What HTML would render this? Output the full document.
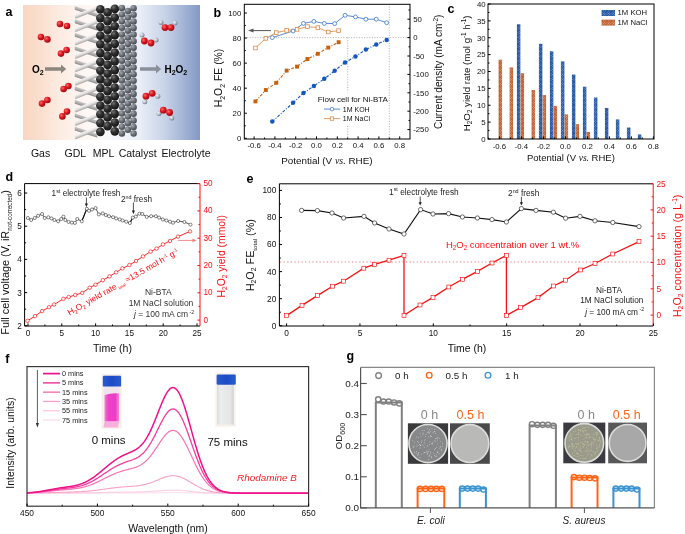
<!DOCTYPE html>
<html><head><meta charset="utf-8"><style>
html,body{margin:0;padding:0;background:#fff;}
svg{display:block;font-family:"Liberation Sans", sans-serif;will-change:transform;}
</style></head><body>
<svg width="685" height="534" viewBox="0 0 685 534">
<rect width="685" height="534" fill="#fff"/>
<defs>
<linearGradient id="ga" x1="0" x2="1" y1="0" y2="0">
<stop offset="0" stop-color="#f8d6c2"/>
<stop offset="0.1" stop-color="#fadfcf"/>
<stop offset="0.2" stop-color="#fcebe1"/>
<stop offset="0.3" stop-color="#fdf3ee"/>
<stop offset="0.4" stop-color="#fdf8f6"/>
<stop offset="0.5" stop-color="#f6f7fa"/>
<stop offset="0.66" stop-color="#e9eef7"/>
<stop offset="0.8" stop-color="#c8d3e8"/>
<stop offset="0.92" stop-color="#9eb0d3"/>
<stop offset="1" stop-color="#8398c4"/>
</linearGradient>
<radialGradient id="gred" cx="0.35" cy="0.35" r="0.7">
<stop offset="0" stop-color="#ff6a6a"/><stop offset="0.5" stop-color="#dc1820"/><stop offset="1" stop-color="#980810"/>
</radialGradient>
<radialGradient id="gwh" cx="0.35" cy="0.35" r="0.7">
<stop offset="0" stop-color="#f4f6fa"/><stop offset="0.55" stop-color="#b4bac6"/><stop offset="1" stop-color="#70788a"/>
</radialGradient>
<radialGradient id="gblk" cx="0.35" cy="0.3" r="0.75">
<stop offset="0" stop-color="#707070"/><stop offset="0.45" stop-color="#2e2e2e"/><stop offset="1" stop-color="#141414"/>
</radialGradient>
<radialGradient id="ggry" cx="0.35" cy="0.3" r="0.75">
<stop offset="0" stop-color="#a4a8b0"/><stop offset="0.5" stop-color="#6c7078"/><stop offset="1" stop-color="#43464c"/>
</radialGradient>
<linearGradient id="gf1" x1="0" y1="0" x2="0" y2="1">
<stop offset="0" stop-color="#f6f4f2"/><stop offset="0.45" stop-color="#e2e0de"/><stop offset="1" stop-color="#a6a4a2"/>
</linearGradient>
<linearGradient id="gf2" x1="0" y1="0" x2="0" y2="1">
<stop offset="0" stop-color="#cacaca"/><stop offset="0.5" stop-color="#b0b0b0"/><stop offset="1" stop-color="#8a8a8a"/>
</linearGradient>
<pattern id="hb" width="1.8" height="1.8" patternUnits="userSpaceOnUse" patternTransform="rotate(45)">
<rect width="1.8" height="1.8" fill="#1d509c"/><rect width="0.9" height="0.9" fill="#7e9fd0"/><rect x="0.9" y="0.9" width="0.9" height="0.9" fill="#2f62ae"/>
</pattern>
<pattern id="ho" width="1.8" height="1.8" patternUnits="userSpaceOnUse" patternTransform="rotate(45)">
<rect width="1.8" height="1.8" fill="#b8582a"/><rect width="0.9" height="0.9" fill="#e6aa88"/><rect x="0.9" y="0.9" width="0.9" height="0.9" fill="#c66a3a"/>
</pattern>
</defs>
<rect x="23" y="5" width="177" height="135" fill="url(#ga)"/>
<clipPath id="cgdl"><rect x="74.8" y="4" width="22.5" height="137"/></clipPath><g clip-path="url(#cgdl)">
<g transform="translate(86,11.60) rotate(18)"><rect x="-13" y="-1.8" width="26" height="3.6" rx="1" fill="url(#gf2)"/></g>
<g transform="translate(86.6,12.20) rotate(-21.4)"><rect x="-13" y="-2" width="26" height="4" rx="1" fill="url(#gf1)"/></g>
<g transform="translate(86,25.00) rotate(18)"><rect x="-13" y="-1.8" width="26" height="3.6" rx="1" fill="url(#gf2)"/></g>
<g transform="translate(86.6,25.60) rotate(-21.4)"><rect x="-13" y="-2" width="26" height="4" rx="1" fill="url(#gf1)"/></g>
<g transform="translate(86,38.40) rotate(18)"><rect x="-13" y="-1.8" width="26" height="3.6" rx="1" fill="url(#gf2)"/></g>
<g transform="translate(86.6,39.00) rotate(-21.4)"><rect x="-13" y="-2" width="26" height="4" rx="1" fill="url(#gf1)"/></g>
<g transform="translate(86,51.80) rotate(18)"><rect x="-13" y="-1.8" width="26" height="3.6" rx="1" fill="url(#gf2)"/></g>
<g transform="translate(86.6,52.40) rotate(-21.4)"><rect x="-13" y="-2" width="26" height="4" rx="1" fill="url(#gf1)"/></g>
<g transform="translate(86,65.20) rotate(18)"><rect x="-13" y="-1.8" width="26" height="3.6" rx="1" fill="url(#gf2)"/></g>
<g transform="translate(86.6,65.80) rotate(-21.4)"><rect x="-13" y="-2" width="26" height="4" rx="1" fill="url(#gf1)"/></g>
<g transform="translate(86,78.60) rotate(18)"><rect x="-13" y="-1.8" width="26" height="3.6" rx="1" fill="url(#gf2)"/></g>
<g transform="translate(86.6,79.20) rotate(-21.4)"><rect x="-13" y="-2" width="26" height="4" rx="1" fill="url(#gf1)"/></g>
<g transform="translate(86,92.00) rotate(18)"><rect x="-13" y="-1.8" width="26" height="3.6" rx="1" fill="url(#gf2)"/></g>
<g transform="translate(86.6,92.60) rotate(-21.4)"><rect x="-13" y="-2" width="26" height="4" rx="1" fill="url(#gf1)"/></g>
<g transform="translate(86,105.40) rotate(18)"><rect x="-13" y="-1.8" width="26" height="3.6" rx="1" fill="url(#gf2)"/></g>
<g transform="translate(86.6,106.00) rotate(-21.4)"><rect x="-13" y="-2" width="26" height="4" rx="1" fill="url(#gf1)"/></g>
<g transform="translate(86,118.80) rotate(18)"><rect x="-13" y="-1.8" width="26" height="3.6" rx="1" fill="url(#gf2)"/></g>
<g transform="translate(86.6,119.40) rotate(-21.4)"><rect x="-13" y="-2" width="26" height="4" rx="1" fill="url(#gf1)"/></g>
<g transform="translate(86,132.20) rotate(18)"><rect x="-13" y="-1.8" width="26" height="3.6" rx="1" fill="url(#gf2)"/></g>
<g transform="translate(86.6,132.80) rotate(-21.4)"><rect x="-13" y="-2" width="26" height="4" rx="1" fill="url(#gf1)"/></g>
</g>
<circle cx="100.40" cy="9.30" r="4.35" fill="url(#gblk)" stroke="none" stroke-width="1"/>
<circle cx="100.40" cy="18.05" r="4.35" fill="url(#gblk)" stroke="none" stroke-width="1"/>
<circle cx="100.40" cy="26.80" r="4.35" fill="url(#gblk)" stroke="none" stroke-width="1"/>
<circle cx="100.40" cy="35.55" r="4.35" fill="url(#gblk)" stroke="none" stroke-width="1"/>
<circle cx="100.40" cy="44.30" r="4.35" fill="url(#gblk)" stroke="none" stroke-width="1"/>
<circle cx="100.40" cy="53.05" r="4.35" fill="url(#gblk)" stroke="none" stroke-width="1"/>
<circle cx="100.40" cy="61.80" r="4.35" fill="url(#gblk)" stroke="none" stroke-width="1"/>
<circle cx="100.40" cy="70.55" r="4.35" fill="url(#gblk)" stroke="none" stroke-width="1"/>
<circle cx="100.40" cy="79.30" r="4.35" fill="url(#gblk)" stroke="none" stroke-width="1"/>
<circle cx="100.40" cy="88.05" r="4.35" fill="url(#gblk)" stroke="none" stroke-width="1"/>
<circle cx="100.40" cy="96.80" r="4.35" fill="url(#gblk)" stroke="none" stroke-width="1"/>
<circle cx="100.40" cy="105.55" r="4.35" fill="url(#gblk)" stroke="none" stroke-width="1"/>
<circle cx="100.40" cy="114.30" r="4.35" fill="url(#gblk)" stroke="none" stroke-width="1"/>
<circle cx="100.40" cy="123.05" r="4.35" fill="url(#gblk)" stroke="none" stroke-width="1"/>
<circle cx="100.40" cy="131.80" r="4.35" fill="url(#gblk)" stroke="none" stroke-width="1"/>
<circle cx="107.60" cy="12.40" r="4.35" fill="url(#gblk)" stroke="none" stroke-width="1"/>
<circle cx="107.60" cy="21.15" r="4.35" fill="url(#gblk)" stroke="none" stroke-width="1"/>
<circle cx="107.60" cy="29.90" r="4.35" fill="url(#gblk)" stroke="none" stroke-width="1"/>
<circle cx="107.60" cy="38.65" r="4.35" fill="url(#gblk)" stroke="none" stroke-width="1"/>
<circle cx="107.60" cy="47.40" r="4.35" fill="url(#gblk)" stroke="none" stroke-width="1"/>
<circle cx="107.60" cy="56.15" r="4.35" fill="url(#gblk)" stroke="none" stroke-width="1"/>
<circle cx="107.60" cy="64.90" r="4.35" fill="url(#gblk)" stroke="none" stroke-width="1"/>
<circle cx="107.60" cy="73.65" r="4.35" fill="url(#gblk)" stroke="none" stroke-width="1"/>
<circle cx="107.60" cy="82.40" r="4.35" fill="url(#gblk)" stroke="none" stroke-width="1"/>
<circle cx="107.60" cy="91.15" r="4.35" fill="url(#gblk)" stroke="none" stroke-width="1"/>
<circle cx="107.60" cy="99.90" r="4.35" fill="url(#gblk)" stroke="none" stroke-width="1"/>
<circle cx="107.60" cy="108.65" r="4.35" fill="url(#gblk)" stroke="none" stroke-width="1"/>
<circle cx="107.60" cy="117.40" r="4.35" fill="url(#gblk)" stroke="none" stroke-width="1"/>
<circle cx="107.60" cy="126.15" r="4.35" fill="url(#gblk)" stroke="none" stroke-width="1"/>
<circle cx="114.80" cy="8.80" r="4.35" fill="url(#gblk)" stroke="none" stroke-width="1"/>
<circle cx="114.80" cy="17.55" r="4.35" fill="url(#gblk)" stroke="none" stroke-width="1"/>
<circle cx="114.80" cy="26.30" r="4.35" fill="url(#gblk)" stroke="none" stroke-width="1"/>
<circle cx="114.80" cy="35.05" r="4.35" fill="url(#gblk)" stroke="none" stroke-width="1"/>
<circle cx="114.80" cy="43.80" r="4.35" fill="url(#gblk)" stroke="none" stroke-width="1"/>
<circle cx="114.80" cy="52.55" r="4.35" fill="url(#gblk)" stroke="none" stroke-width="1"/>
<circle cx="114.80" cy="61.30" r="4.35" fill="url(#gblk)" stroke="none" stroke-width="1"/>
<circle cx="114.80" cy="70.05" r="4.35" fill="url(#gblk)" stroke="none" stroke-width="1"/>
<circle cx="114.80" cy="78.80" r="4.35" fill="url(#gblk)" stroke="none" stroke-width="1"/>
<circle cx="114.80" cy="87.55" r="4.35" fill="url(#gblk)" stroke="none" stroke-width="1"/>
<circle cx="114.80" cy="96.30" r="4.35" fill="url(#gblk)" stroke="none" stroke-width="1"/>
<circle cx="114.80" cy="105.05" r="4.35" fill="url(#gblk)" stroke="none" stroke-width="1"/>
<circle cx="114.80" cy="113.80" r="4.35" fill="url(#gblk)" stroke="none" stroke-width="1"/>
<circle cx="114.80" cy="122.55" r="4.35" fill="url(#gblk)" stroke="none" stroke-width="1"/>
<circle cx="114.80" cy="131.30" r="4.35" fill="url(#gblk)" stroke="none" stroke-width="1"/>
<circle cx="121.90" cy="8.00" r="3.25" fill="url(#ggry)" stroke="none" stroke-width="1"/>
<circle cx="121.90" cy="14.60" r="3.25" fill="url(#ggry)" stroke="none" stroke-width="1"/>
<circle cx="121.90" cy="21.20" r="3.25" fill="url(#ggry)" stroke="none" stroke-width="1"/>
<circle cx="121.90" cy="27.80" r="3.25" fill="url(#ggry)" stroke="none" stroke-width="1"/>
<circle cx="121.90" cy="34.40" r="3.25" fill="url(#ggry)" stroke="none" stroke-width="1"/>
<circle cx="121.90" cy="41.00" r="3.25" fill="url(#ggry)" stroke="none" stroke-width="1"/>
<circle cx="121.90" cy="47.60" r="3.25" fill="url(#ggry)" stroke="none" stroke-width="1"/>
<circle cx="121.90" cy="54.20" r="3.25" fill="url(#ggry)" stroke="none" stroke-width="1"/>
<circle cx="121.90" cy="60.80" r="3.25" fill="url(#ggry)" stroke="none" stroke-width="1"/>
<circle cx="121.90" cy="67.40" r="3.25" fill="url(#ggry)" stroke="none" stroke-width="1"/>
<circle cx="121.90" cy="74.00" r="3.25" fill="url(#ggry)" stroke="none" stroke-width="1"/>
<circle cx="121.90" cy="80.60" r="3.25" fill="url(#ggry)" stroke="none" stroke-width="1"/>
<circle cx="121.90" cy="87.20" r="3.25" fill="url(#ggry)" stroke="none" stroke-width="1"/>
<circle cx="121.90" cy="93.80" r="3.25" fill="url(#ggry)" stroke="none" stroke-width="1"/>
<circle cx="121.90" cy="100.40" r="3.25" fill="url(#ggry)" stroke="none" stroke-width="1"/>
<circle cx="121.90" cy="107.00" r="3.25" fill="url(#ggry)" stroke="none" stroke-width="1"/>
<circle cx="121.90" cy="113.60" r="3.25" fill="url(#ggry)" stroke="none" stroke-width="1"/>
<circle cx="121.90" cy="120.20" r="3.25" fill="url(#ggry)" stroke="none" stroke-width="1"/>
<circle cx="121.90" cy="126.80" r="3.25" fill="url(#ggry)" stroke="none" stroke-width="1"/>
<circle cx="121.90" cy="133.40" r="3.25" fill="url(#ggry)" stroke="none" stroke-width="1"/>
<circle cx="127.90" cy="11.00" r="3.25" fill="url(#ggry)" stroke="none" stroke-width="1"/>
<circle cx="127.90" cy="17.60" r="3.25" fill="url(#ggry)" stroke="none" stroke-width="1"/>
<circle cx="127.90" cy="24.20" r="3.25" fill="url(#ggry)" stroke="none" stroke-width="1"/>
<circle cx="127.90" cy="30.80" r="3.25" fill="url(#ggry)" stroke="none" stroke-width="1"/>
<circle cx="127.90" cy="37.40" r="3.25" fill="url(#ggry)" stroke="none" stroke-width="1"/>
<circle cx="127.90" cy="44.00" r="3.25" fill="url(#ggry)" stroke="none" stroke-width="1"/>
<circle cx="127.90" cy="50.60" r="3.25" fill="url(#ggry)" stroke="none" stroke-width="1"/>
<circle cx="127.90" cy="57.20" r="3.25" fill="url(#ggry)" stroke="none" stroke-width="1"/>
<circle cx="127.90" cy="63.80" r="3.25" fill="url(#ggry)" stroke="none" stroke-width="1"/>
<circle cx="127.90" cy="70.40" r="3.25" fill="url(#ggry)" stroke="none" stroke-width="1"/>
<circle cx="127.90" cy="77.00" r="3.25" fill="url(#ggry)" stroke="none" stroke-width="1"/>
<circle cx="127.90" cy="83.60" r="3.25" fill="url(#ggry)" stroke="none" stroke-width="1"/>
<circle cx="127.90" cy="90.20" r="3.25" fill="url(#ggry)" stroke="none" stroke-width="1"/>
<circle cx="127.90" cy="96.80" r="3.25" fill="url(#ggry)" stroke="none" stroke-width="1"/>
<circle cx="127.90" cy="103.40" r="3.25" fill="url(#ggry)" stroke="none" stroke-width="1"/>
<circle cx="127.90" cy="110.00" r="3.25" fill="url(#ggry)" stroke="none" stroke-width="1"/>
<circle cx="127.90" cy="116.60" r="3.25" fill="url(#ggry)" stroke="none" stroke-width="1"/>
<circle cx="127.90" cy="123.20" r="3.25" fill="url(#ggry)" stroke="none" stroke-width="1"/>
<circle cx="127.90" cy="129.80" r="3.25" fill="url(#ggry)" stroke="none" stroke-width="1"/>
<circle cx="133.60" cy="8.20" r="3.25" fill="url(#ggry)" stroke="none" stroke-width="1"/>
<circle cx="133.60" cy="14.80" r="3.25" fill="url(#ggry)" stroke="none" stroke-width="1"/>
<circle cx="133.60" cy="21.40" r="3.25" fill="url(#ggry)" stroke="none" stroke-width="1"/>
<circle cx="133.60" cy="28.00" r="3.25" fill="url(#ggry)" stroke="none" stroke-width="1"/>
<circle cx="133.60" cy="34.60" r="3.25" fill="url(#ggry)" stroke="none" stroke-width="1"/>
<circle cx="133.60" cy="41.20" r="3.25" fill="url(#ggry)" stroke="none" stroke-width="1"/>
<circle cx="133.60" cy="47.80" r="3.25" fill="url(#ggry)" stroke="none" stroke-width="1"/>
<circle cx="133.60" cy="54.40" r="3.25" fill="url(#ggry)" stroke="none" stroke-width="1"/>
<circle cx="133.60" cy="61.00" r="3.25" fill="url(#ggry)" stroke="none" stroke-width="1"/>
<circle cx="133.60" cy="67.60" r="3.25" fill="url(#ggry)" stroke="none" stroke-width="1"/>
<circle cx="133.60" cy="74.20" r="3.25" fill="url(#ggry)" stroke="none" stroke-width="1"/>
<circle cx="133.60" cy="80.80" r="3.25" fill="url(#ggry)" stroke="none" stroke-width="1"/>
<circle cx="133.60" cy="87.40" r="3.25" fill="url(#ggry)" stroke="none" stroke-width="1"/>
<circle cx="133.60" cy="94.00" r="3.25" fill="url(#ggry)" stroke="none" stroke-width="1"/>
<circle cx="133.60" cy="100.60" r="3.25" fill="url(#ggry)" stroke="none" stroke-width="1"/>
<circle cx="133.60" cy="107.20" r="3.25" fill="url(#ggry)" stroke="none" stroke-width="1"/>
<circle cx="133.60" cy="113.80" r="3.25" fill="url(#ggry)" stroke="none" stroke-width="1"/>
<circle cx="133.60" cy="120.40" r="3.25" fill="url(#ggry)" stroke="none" stroke-width="1"/>
<circle cx="133.60" cy="127.00" r="3.25" fill="url(#ggry)" stroke="none" stroke-width="1"/>
<circle cx="133.60" cy="133.60" r="3.25" fill="url(#ggry)" stroke="none" stroke-width="1"/>
<circle cx="60.00" cy="24.00" r="3.3" fill="url(#gred)" stroke="none" stroke-width="1"/>
<circle cx="67.00" cy="26.00" r="3.3" fill="url(#gred)" stroke="none" stroke-width="1"/>
<circle cx="41.00" cy="37.00" r="3.3" fill="url(#gred)" stroke="none" stroke-width="1"/>
<circle cx="47.40" cy="39.40" r="3.3" fill="url(#gred)" stroke="none" stroke-width="1"/>
<circle cx="61.00" cy="53.60" r="3.3" fill="url(#gred)" stroke="none" stroke-width="1"/>
<circle cx="66.60" cy="50.00" r="3.3" fill="url(#gred)" stroke="none" stroke-width="1"/>
<circle cx="63.60" cy="89.00" r="3.3" fill="url(#gred)" stroke="none" stroke-width="1"/>
<circle cx="68.40" cy="86.00" r="3.3" fill="url(#gred)" stroke="none" stroke-width="1"/>
<circle cx="42.00" cy="103.60" r="3.3" fill="url(#gred)" stroke="none" stroke-width="1"/>
<circle cx="47.40" cy="100.00" r="3.3" fill="url(#gred)" stroke="none" stroke-width="1"/>
<circle cx="62.40" cy="116.40" r="3.3" fill="url(#gred)" stroke="none" stroke-width="1"/>
<circle cx="67.00" cy="111.60" r="3.3" fill="url(#gred)" stroke="none" stroke-width="1"/>
<circle cx="161.00" cy="22.40" r="2.5" fill="url(#gwh)" stroke="none" stroke-width="1"/>
<circle cx="175.00" cy="23.00" r="2.5" fill="url(#gwh)" stroke="none" stroke-width="1"/>
<circle cx="165.00" cy="27.60" r="3.4" fill="url(#gred)" stroke="none" stroke-width="1"/>
<circle cx="171.00" cy="27.60" r="3.4" fill="url(#gred)" stroke="none" stroke-width="1"/>
<circle cx="142.00" cy="35.00" r="2.5" fill="url(#gwh)" stroke="none" stroke-width="1"/>
<circle cx="156.00" cy="40.00" r="2.5" fill="url(#gwh)" stroke="none" stroke-width="1"/>
<circle cx="144.40" cy="41.00" r="3.4" fill="url(#gred)" stroke="none" stroke-width="1"/>
<circle cx="151.00" cy="43.00" r="3.4" fill="url(#gred)" stroke="none" stroke-width="1"/>
<circle cx="144.80" cy="101.80" r="2.5" fill="url(#gwh)" stroke="none" stroke-width="1"/>
<circle cx="157.80" cy="96.20" r="2.5" fill="url(#gwh)" stroke="none" stroke-width="1"/>
<circle cx="146.00" cy="96.20" r="3.4" fill="url(#gred)" stroke="none" stroke-width="1"/>
<circle cx="152.20" cy="93.30" r="3.4" fill="url(#gred)" stroke="none" stroke-width="1"/>
<circle cx="159.00" cy="113.50" r="2.5" fill="url(#gwh)" stroke="none" stroke-width="1"/>
<circle cx="171.80" cy="118.00" r="2.5" fill="url(#gwh)" stroke="none" stroke-width="1"/>
<circle cx="163.30" cy="110.20" r="3.4" fill="url(#gred)" stroke="none" stroke-width="1"/>
<circle cx="169.60" cy="112.50" r="3.4" fill="url(#gred)" stroke="none" stroke-width="1"/>
<path d="M45,67.2 H61 V64.6 L66.2,69 L61,73.4 V70.8 H45 Z" fill="#8c8580"/>
<path d="M140,67.2 H156 V64.6 L161.2,69 L156,73.4 V70.8 H140 Z" fill="#8a9099"/>
<text x="32.00" y="72.60" font-size="10" text-anchor="start" fill="#000" font-weight="bold" font-style="normal" >O<tspan font-size="7" dy="2">2</tspan></text>
<text x="164.40" y="72.60" font-size="10" text-anchor="start" fill="#000" font-weight="bold" font-style="normal" >H<tspan font-size="7" dy="2">2</tspan><tspan dy="-2">O</tspan><tspan font-size="7" dy="2">2</tspan></text>
<text x="40.60" y="156.60" font-size="10.5" text-anchor="middle" fill="#111" font-weight="normal" font-style="normal" >Gas</text>
<text x="75.40" y="156.60" font-size="10.5" text-anchor="middle" fill="#111" font-weight="normal" font-style="normal" >GDL</text>
<text x="103.60" y="156.60" font-size="10.5" text-anchor="middle" fill="#111" font-weight="normal" font-style="normal" >MPL</text>
<text x="137.60" y="156.60" font-size="10.5" text-anchor="middle" fill="#111" font-weight="normal" font-style="normal" >Catalyst</text>
<text x="186.00" y="156.60" font-size="10.5" text-anchor="middle" fill="#111" font-weight="normal" font-style="normal" >Electrolyte</text>
<text x="5.40" y="16.30" font-size="12.5" text-anchor="start" fill="#000" font-weight="bold" font-style="normal" >a</text>
<text x="213.60" y="16.50" font-size="12.5" text-anchor="start" fill="#000" font-weight="bold" font-style="normal" >b</text>
<line x1="244.50" y1="37.60" x2="409.50" y2="37.60" stroke="#9a9a9a" stroke-width="0.8" stroke-dasharray="1,1.6"/>
<line x1="347.70" y1="37.60" x2="347.70" y2="138.50" stroke="#9a9a9a" stroke-width="0.8" stroke-dasharray="1,1.6"/>
<line x1="389.30" y1="6.50" x2="389.30" y2="138.50" stroke="#9a9a9a" stroke-width="0.8" stroke-dasharray="1,1.6"/>
<rect x="316" y="92.5" width="72" height="32" fill="#fff"/>
<polyline points="255.44,48.00 265.84,38.40 276.24,32.60 286.64,30.40 297.04,29.40 307.44,26.60 317.84,27.60 328.24,32.00 338.64,30.60" fill="none" stroke="#d9833f" stroke-width="0.8" />
<polyline points="272.28,37.60 293.08,31.00 303.48,23.40 313.88,21.40 324.28,23.40 334.68,23.60 345.08,15.30 355.48,16.90 365.88,19.20 376.28,19.20 386.68,22.70" fill="none" stroke="#2f6fc8" stroke-width="0.8" />
<polyline points="255.44,101.40 265.84,90.00 276.24,82.80 286.64,70.60 297.04,66.60 307.44,59.00 317.84,53.80 328.24,47.60 338.64,42.20" fill="none" stroke="#c8600e" stroke-width="1.1" stroke-dasharray="3,1.5,1,1.5"/>
<polyline points="272.28,121.60 293.08,102.80 303.48,93.00 313.88,86.00 324.28,78.80 334.68,70.80 345.08,62.40 355.48,56.40 365.88,49.60 376.28,44.40 386.68,40.00" fill="none" stroke="#1557c0" stroke-width="1.1" stroke-dasharray="3,1.5,1,1.5"/>
<rect x="253.64" y="46.20" width="3.6" height="3.6" fill="#fff" stroke="#d9833f" stroke-width="0.75"/>
<rect x="264.04" y="36.60" width="3.6" height="3.6" fill="#fff" stroke="#d9833f" stroke-width="0.75"/>
<rect x="274.44" y="30.80" width="3.6" height="3.6" fill="#fff" stroke="#d9833f" stroke-width="0.75"/>
<rect x="284.84" y="28.60" width="3.6" height="3.6" fill="#fff" stroke="#d9833f" stroke-width="0.75"/>
<rect x="295.24" y="27.60" width="3.6" height="3.6" fill="#fff" stroke="#d9833f" stroke-width="0.75"/>
<rect x="305.64" y="24.80" width="3.6" height="3.6" fill="#fff" stroke="#d9833f" stroke-width="0.75"/>
<rect x="316.04" y="25.80" width="3.6" height="3.6" fill="#fff" stroke="#d9833f" stroke-width="0.75"/>
<rect x="326.44" y="30.20" width="3.6" height="3.6" fill="#fff" stroke="#d9833f" stroke-width="0.75"/>
<rect x="336.84" y="28.80" width="3.6" height="3.6" fill="#fff" stroke="#d9833f" stroke-width="0.75"/>
<circle cx="272.28" cy="37.60" r="1.95" fill="#fff" stroke="#2f6fc8" stroke-width="0.75"/>
<circle cx="293.08" cy="31.00" r="1.95" fill="#fff" stroke="#2f6fc8" stroke-width="0.75"/>
<circle cx="303.48" cy="23.40" r="1.95" fill="#fff" stroke="#2f6fc8" stroke-width="0.75"/>
<circle cx="313.88" cy="21.40" r="1.95" fill="#fff" stroke="#2f6fc8" stroke-width="0.75"/>
<circle cx="324.28" cy="23.40" r="1.95" fill="#fff" stroke="#2f6fc8" stroke-width="0.75"/>
<circle cx="334.68" cy="23.60" r="1.95" fill="#fff" stroke="#2f6fc8" stroke-width="0.75"/>
<circle cx="345.08" cy="15.30" r="1.95" fill="#fff" stroke="#2f6fc8" stroke-width="0.75"/>
<circle cx="355.48" cy="16.90" r="1.95" fill="#fff" stroke="#2f6fc8" stroke-width="0.75"/>
<circle cx="365.88" cy="19.20" r="1.95" fill="#fff" stroke="#2f6fc8" stroke-width="0.75"/>
<circle cx="376.28" cy="19.20" r="1.95" fill="#fff" stroke="#2f6fc8" stroke-width="0.75"/>
<circle cx="386.68" cy="22.70" r="1.95" fill="#fff" stroke="#2f6fc8" stroke-width="0.75"/>
<rect x="253.49" y="99.45" width="3.9" height="3.9" fill="#c8600e" stroke="none" stroke-width="1"/>
<rect x="263.89" y="88.05" width="3.9" height="3.9" fill="#c8600e" stroke="none" stroke-width="1"/>
<rect x="274.29" y="80.85" width="3.9" height="3.9" fill="#c8600e" stroke="none" stroke-width="1"/>
<rect x="284.69" y="68.65" width="3.9" height="3.9" fill="#c8600e" stroke="none" stroke-width="1"/>
<rect x="295.09" y="64.65" width="3.9" height="3.9" fill="#c8600e" stroke="none" stroke-width="1"/>
<rect x="305.49" y="57.05" width="3.9" height="3.9" fill="#c8600e" stroke="none" stroke-width="1"/>
<rect x="315.89" y="51.85" width="3.9" height="3.9" fill="#c8600e" stroke="none" stroke-width="1"/>
<rect x="326.29" y="45.65" width="3.9" height="3.9" fill="#c8600e" stroke="none" stroke-width="1"/>
<rect x="336.69" y="40.25" width="3.9" height="3.9" fill="#c8600e" stroke="none" stroke-width="1"/>
<circle cx="272.28" cy="121.60" r="2.25" fill="#1557c0" stroke="none" stroke-width="1"/>
<circle cx="293.08" cy="102.80" r="2.25" fill="#1557c0" stroke="none" stroke-width="1"/>
<circle cx="303.48" cy="93.00" r="2.25" fill="#1557c0" stroke="none" stroke-width="1"/>
<circle cx="313.88" cy="86.00" r="2.25" fill="#1557c0" stroke="none" stroke-width="1"/>
<circle cx="324.28" cy="78.80" r="2.25" fill="#1557c0" stroke="none" stroke-width="1"/>
<circle cx="334.68" cy="70.80" r="2.25" fill="#1557c0" stroke="none" stroke-width="1"/>
<circle cx="345.08" cy="62.40" r="2.25" fill="#1557c0" stroke="none" stroke-width="1"/>
<circle cx="355.48" cy="56.40" r="2.25" fill="#1557c0" stroke="none" stroke-width="1"/>
<circle cx="365.88" cy="49.60" r="2.25" fill="#1557c0" stroke="none" stroke-width="1"/>
<circle cx="376.28" cy="44.40" r="2.25" fill="#1557c0" stroke="none" stroke-width="1"/>
<circle cx="386.68" cy="40.00" r="2.25" fill="#1557c0" stroke="none" stroke-width="1"/>
<path d="M271,30.6 H251.5" stroke="#555" stroke-width="1"/><path d="M248.2,30.6 L253.5,28.6 L253.5,32.6 Z" fill="#555"/>
<text x="317.80" y="101.80" font-size="8" text-anchor="start" fill="#111" font-weight="normal" font-style="normal" >Flow cell for Ni-BTA</text>
<line x1="324.00" y1="109.10" x2="340.10" y2="109.10" stroke="#2f6fc8" stroke-width="0.8" />
<circle cx="332.00" cy="109.10" r="1.8" fill="#fff" stroke="#2f6fc8" stroke-width="0.7"/>
<text x="342.80" y="112.00" font-size="7" text-anchor="start" fill="#111" font-weight="normal" font-style="normal" >1M KOH</text>
<line x1="324.00" y1="118.60" x2="340.10" y2="118.60" stroke="#d9833f" stroke-width="0.8" />
<rect x="330.30" y="116.90" width="3.4" height="3.4" fill="#fff" stroke="#d9833f" stroke-width="0.7"/>
<text x="342.80" y="121.40" font-size="7" text-anchor="start" fill="#111" font-weight="normal" font-style="normal" >1M NaCl</text>
<rect x="244.30" y="4.30" width="165.70" height="134.70" fill="none" stroke="#000" stroke-width="1"/>
<line x1="244.30" y1="138.30" x2="246.90" y2="138.30" stroke="#000" stroke-width="1" />
<line x1="244.30" y1="113.24" x2="246.90" y2="113.24" stroke="#000" stroke-width="1" />
<line x1="244.30" y1="88.18" x2="246.90" y2="88.18" stroke="#000" stroke-width="1" />
<line x1="244.30" y1="63.12" x2="246.90" y2="63.12" stroke="#000" stroke-width="1" />
<line x1="244.30" y1="38.06" x2="246.90" y2="38.06" stroke="#000" stroke-width="1" />
<line x1="244.30" y1="13.00" x2="246.90" y2="13.00" stroke="#000" stroke-width="1" />
<line x1="244.30" y1="125.77" x2="245.80" y2="125.77" stroke="#000" stroke-width="1" />
<line x1="244.30" y1="100.71" x2="245.80" y2="100.71" stroke="#000" stroke-width="1" />
<line x1="244.30" y1="75.65" x2="245.80" y2="75.65" stroke="#000" stroke-width="1" />
<line x1="244.30" y1="50.59" x2="245.80" y2="50.59" stroke="#000" stroke-width="1" />
<line x1="244.30" y1="25.53" x2="245.80" y2="25.53" stroke="#000" stroke-width="1" />
<line x1="410.00" y1="129.60" x2="407.40" y2="129.60" stroke="#000" stroke-width="1" />
<line x1="410.00" y1="111.20" x2="407.40" y2="111.20" stroke="#000" stroke-width="1" />
<line x1="410.00" y1="92.80" x2="407.40" y2="92.80" stroke="#000" stroke-width="1" />
<line x1="410.00" y1="74.40" x2="407.40" y2="74.40" stroke="#000" stroke-width="1" />
<line x1="410.00" y1="56.00" x2="407.40" y2="56.00" stroke="#000" stroke-width="1" />
<line x1="410.00" y1="37.60" x2="407.40" y2="37.60" stroke="#000" stroke-width="1" />
<line x1="410.00" y1="19.20" x2="407.40" y2="19.20" stroke="#000" stroke-width="1" />
<line x1="410.00" y1="120.40" x2="408.50" y2="120.40" stroke="#000" stroke-width="1" />
<line x1="410.00" y1="102.00" x2="408.50" y2="102.00" stroke="#000" stroke-width="1" />
<line x1="410.00" y1="83.60" x2="408.50" y2="83.60" stroke="#000" stroke-width="1" />
<line x1="410.00" y1="65.20" x2="408.50" y2="65.20" stroke="#000" stroke-width="1" />
<line x1="410.00" y1="46.80" x2="408.50" y2="46.80" stroke="#000" stroke-width="1" />
<line x1="410.00" y1="28.40" x2="408.50" y2="28.40" stroke="#000" stroke-width="1" />
<line x1="410.00" y1="10.00" x2="408.50" y2="10.00" stroke="#000" stroke-width="1" />
<line x1="254.10" y1="139.00" x2="254.10" y2="136.40" stroke="#000" stroke-width="1" />
<line x1="274.90" y1="139.00" x2="274.90" y2="136.40" stroke="#000" stroke-width="1" />
<line x1="295.70" y1="139.00" x2="295.70" y2="136.40" stroke="#000" stroke-width="1" />
<line x1="316.50" y1="139.00" x2="316.50" y2="136.40" stroke="#000" stroke-width="1" />
<line x1="337.30" y1="139.00" x2="337.30" y2="136.40" stroke="#000" stroke-width="1" />
<line x1="358.10" y1="139.00" x2="358.10" y2="136.40" stroke="#000" stroke-width="1" />
<line x1="378.90" y1="139.00" x2="378.90" y2="136.40" stroke="#000" stroke-width="1" />
<line x1="399.70" y1="139.00" x2="399.70" y2="136.40" stroke="#000" stroke-width="1" />
<line x1="264.50" y1="139.00" x2="264.50" y2="137.50" stroke="#000" stroke-width="1" />
<line x1="285.30" y1="139.00" x2="285.30" y2="137.50" stroke="#000" stroke-width="1" />
<line x1="306.10" y1="139.00" x2="306.10" y2="137.50" stroke="#000" stroke-width="1" />
<line x1="326.90" y1="139.00" x2="326.90" y2="137.50" stroke="#000" stroke-width="1" />
<line x1="347.70" y1="139.00" x2="347.70" y2="137.50" stroke="#000" stroke-width="1" />
<line x1="368.50" y1="139.00" x2="368.50" y2="137.50" stroke="#000" stroke-width="1" />
<line x1="389.30" y1="139.00" x2="389.30" y2="137.50" stroke="#000" stroke-width="1" />
<text x="241.30" y="141.10" font-size="7.8" text-anchor="end" fill="#111" font-weight="normal" font-style="normal" >0</text>
<text x="241.30" y="116.04" font-size="7.8" text-anchor="end" fill="#111" font-weight="normal" font-style="normal" >20</text>
<text x="241.30" y="90.98" font-size="7.8" text-anchor="end" fill="#111" font-weight="normal" font-style="normal" >40</text>
<text x="241.30" y="65.92" font-size="7.8" text-anchor="end" fill="#111" font-weight="normal" font-style="normal" >60</text>
<text x="241.30" y="40.86" font-size="7.8" text-anchor="end" fill="#111" font-weight="normal" font-style="normal" >80</text>
<text x="241.30" y="15.80" font-size="7.8" text-anchor="end" fill="#111" font-weight="normal" font-style="normal" >100</text>
<text x="413.20" y="132.40" font-size="7.8" text-anchor="start" fill="#111" font-weight="normal" font-style="normal" >-250</text>
<text x="413.20" y="114.00" font-size="7.8" text-anchor="start" fill="#111" font-weight="normal" font-style="normal" >-200</text>
<text x="413.20" y="95.60" font-size="7.8" text-anchor="start" fill="#111" font-weight="normal" font-style="normal" >-150</text>
<text x="413.20" y="77.20" font-size="7.8" text-anchor="start" fill="#111" font-weight="normal" font-style="normal" >-100</text>
<text x="413.20" y="58.80" font-size="7.8" text-anchor="start" fill="#111" font-weight="normal" font-style="normal" >-50</text>
<text x="413.20" y="40.40" font-size="7.8" text-anchor="start" fill="#111" font-weight="normal" font-style="normal" >0</text>
<text x="413.20" y="22.00" font-size="7.8" text-anchor="start" fill="#111" font-weight="normal" font-style="normal" >50</text>
<text x="254.10" y="148.20" font-size="7.8" text-anchor="middle" fill="#111" font-weight="normal" font-style="normal" >-0.6</text>
<text x="274.90" y="148.20" font-size="7.8" text-anchor="middle" fill="#111" font-weight="normal" font-style="normal" >-0.4</text>
<text x="295.70" y="148.20" font-size="7.8" text-anchor="middle" fill="#111" font-weight="normal" font-style="normal" >-0.2</text>
<text x="316.50" y="148.20" font-size="7.8" text-anchor="middle" fill="#111" font-weight="normal" font-style="normal" >0.0</text>
<text x="337.30" y="148.20" font-size="7.8" text-anchor="middle" fill="#111" font-weight="normal" font-style="normal" >0.2</text>
<text x="358.10" y="148.20" font-size="7.8" text-anchor="middle" fill="#111" font-weight="normal" font-style="normal" >0.4</text>
<text x="378.90" y="148.20" font-size="7.8" text-anchor="middle" fill="#111" font-weight="normal" font-style="normal" >0.6</text>
<text x="399.70" y="148.20" font-size="7.8" text-anchor="middle" fill="#111" font-weight="normal" font-style="normal" >0.8</text>
<text x="326.85" y="164.00" font-size="9.9" text-anchor="middle" fill="#111" font-weight="normal" font-style="normal" >Potential (V <tspan font-family='"Liberation Serif", serif' font-style="italic">vs.</tspan> RHE)</text>
<text transform="translate(222.3,78) rotate(-90)" font-size="10.4" text-anchor="middle" fill="#111">H<tspan font-size="7" dy="2.6">2</tspan><tspan dy="-2.6">O</tspan><tspan font-size="7" dy="2.6">2</tspan><tspan dy="-2.6"> FE (%)</tspan></text>
<text transform="translate(441.6,71.8) rotate(-90)" font-size="10.1" text-anchor="middle" fill="#111">Current density (mA cm<tspan font-size="6.5" dy="-4">-2</tspan><tspan dy="4">)</tspan></text>
<text x="447.40" y="13.40" font-size="12.5" text-anchor="start" fill="#000" font-weight="bold" font-style="normal" >c</text>
<rect x="516.90" y="24.25" width="3.5" height="114.75" fill="url(#hb)"/>
<rect x="538.90" y="43.83" width="3.5" height="95.17" fill="url(#hb)"/>
<rect x="549.90" y="51.25" width="3.5" height="87.75" fill="url(#hb)"/>
<rect x="560.90" y="61.38" width="3.5" height="77.62" fill="url(#hb)"/>
<rect x="571.90" y="74.54" width="3.5" height="64.46" fill="url(#hb)"/>
<rect x="582.90" y="86.69" width="3.5" height="52.31" fill="url(#hb)"/>
<rect x="593.90" y="97.49" width="3.5" height="41.51" fill="url(#hb)"/>
<rect x="604.90" y="107.95" width="3.5" height="31.05" fill="url(#hb)"/>
<rect x="615.90" y="119.42" width="3.5" height="19.58" fill="url(#hb)"/>
<rect x="626.90" y="127.53" width="3.5" height="11.47" fill="url(#hb)"/>
<rect x="637.90" y="134.41" width="3.5" height="4.59" fill="url(#hb)"/>
<rect x="498.60" y="59.69" width="3.5" height="79.31" fill="url(#ho)"/>
<rect x="509.60" y="67.45" width="3.5" height="71.55" fill="url(#ho)"/>
<rect x="520.60" y="73.19" width="3.5" height="65.81" fill="url(#ho)"/>
<rect x="531.60" y="90.06" width="3.5" height="48.94" fill="url(#ho)"/>
<rect x="542.60" y="95.12" width="3.5" height="43.88" fill="url(#ho)"/>
<rect x="553.60" y="105.92" width="3.5" height="33.08" fill="url(#ho)"/>
<rect x="564.60" y="114.36" width="3.5" height="24.64" fill="url(#ho)"/>
<rect x="575.60" y="124.15" width="3.5" height="14.85" fill="url(#ho)"/>
<rect x="586.60" y="131.91" width="3.5" height="7.09" fill="url(#ho)"/>
<rect x="488.00" y="4.00" width="166.00" height="135.00" fill="none" stroke="#000" stroke-width="1"/>
<line x1="488.00" y1="139.00" x2="490.60" y2="139.00" stroke="#000" stroke-width="1" />
<line x1="488.00" y1="122.12" x2="490.60" y2="122.12" stroke="#000" stroke-width="1" />
<line x1="488.00" y1="105.25" x2="490.60" y2="105.25" stroke="#000" stroke-width="1" />
<line x1="488.00" y1="88.38" x2="490.60" y2="88.38" stroke="#000" stroke-width="1" />
<line x1="488.00" y1="71.50" x2="490.60" y2="71.50" stroke="#000" stroke-width="1" />
<line x1="488.00" y1="54.62" x2="490.60" y2="54.62" stroke="#000" stroke-width="1" />
<line x1="488.00" y1="37.75" x2="490.60" y2="37.75" stroke="#000" stroke-width="1" />
<line x1="488.00" y1="20.88" x2="490.60" y2="20.88" stroke="#000" stroke-width="1" />
<line x1="488.00" y1="4.00" x2="490.60" y2="4.00" stroke="#000" stroke-width="1" />
<line x1="488.00" y1="130.56" x2="489.50" y2="130.56" stroke="#000" stroke-width="1" />
<line x1="488.00" y1="113.69" x2="489.50" y2="113.69" stroke="#000" stroke-width="1" />
<line x1="488.00" y1="96.81" x2="489.50" y2="96.81" stroke="#000" stroke-width="1" />
<line x1="488.00" y1="79.94" x2="489.50" y2="79.94" stroke="#000" stroke-width="1" />
<line x1="488.00" y1="63.06" x2="489.50" y2="63.06" stroke="#000" stroke-width="1" />
<line x1="488.00" y1="46.19" x2="489.50" y2="46.19" stroke="#000" stroke-width="1" />
<line x1="488.00" y1="29.31" x2="489.50" y2="29.31" stroke="#000" stroke-width="1" />
<line x1="488.00" y1="12.44" x2="489.50" y2="12.44" stroke="#000" stroke-width="1" />
<line x1="499.40" y1="139.00" x2="499.40" y2="136.40" stroke="#000" stroke-width="1" />
<line x1="521.40" y1="139.00" x2="521.40" y2="136.40" stroke="#000" stroke-width="1" />
<line x1="543.40" y1="139.00" x2="543.40" y2="136.40" stroke="#000" stroke-width="1" />
<line x1="565.40" y1="139.00" x2="565.40" y2="136.40" stroke="#000" stroke-width="1" />
<line x1="587.40" y1="139.00" x2="587.40" y2="136.40" stroke="#000" stroke-width="1" />
<line x1="609.40" y1="139.00" x2="609.40" y2="136.40" stroke="#000" stroke-width="1" />
<line x1="631.40" y1="139.00" x2="631.40" y2="136.40" stroke="#000" stroke-width="1" />
<line x1="653.40" y1="139.00" x2="653.40" y2="136.40" stroke="#000" stroke-width="1" />
<line x1="488.40" y1="139.00" x2="488.40" y2="137.50" stroke="#000" stroke-width="1" />
<line x1="510.40" y1="139.00" x2="510.40" y2="137.50" stroke="#000" stroke-width="1" />
<line x1="532.40" y1="139.00" x2="532.40" y2="137.50" stroke="#000" stroke-width="1" />
<line x1="554.40" y1="139.00" x2="554.40" y2="137.50" stroke="#000" stroke-width="1" />
<line x1="576.40" y1="139.00" x2="576.40" y2="137.50" stroke="#000" stroke-width="1" />
<line x1="598.40" y1="139.00" x2="598.40" y2="137.50" stroke="#000" stroke-width="1" />
<line x1="620.40" y1="139.00" x2="620.40" y2="137.50" stroke="#000" stroke-width="1" />
<line x1="642.40" y1="139.00" x2="642.40" y2="137.50" stroke="#000" stroke-width="1" />
<text x="485.60" y="141.80" font-size="7.8" text-anchor="end" fill="#111" font-weight="normal" font-style="normal" >0</text>
<text x="485.60" y="124.92" font-size="7.8" text-anchor="end" fill="#111" font-weight="normal" font-style="normal" >5</text>
<text x="485.60" y="108.05" font-size="7.8" text-anchor="end" fill="#111" font-weight="normal" font-style="normal" >10</text>
<text x="485.60" y="91.17" font-size="7.8" text-anchor="end" fill="#111" font-weight="normal" font-style="normal" >15</text>
<text x="485.60" y="74.30" font-size="7.8" text-anchor="end" fill="#111" font-weight="normal" font-style="normal" >20</text>
<text x="485.60" y="57.42" font-size="7.8" text-anchor="end" fill="#111" font-weight="normal" font-style="normal" >25</text>
<text x="485.60" y="40.55" font-size="7.8" text-anchor="end" fill="#111" font-weight="normal" font-style="normal" >30</text>
<text x="485.60" y="23.68" font-size="7.8" text-anchor="end" fill="#111" font-weight="normal" font-style="normal" >35</text>
<text x="485.60" y="6.80" font-size="7.8" text-anchor="end" fill="#111" font-weight="normal" font-style="normal" >40</text>
<text x="499.40" y="148.60" font-size="7.8" text-anchor="middle" fill="#111" font-weight="normal" font-style="normal" >-0.6</text>
<text x="521.40" y="148.60" font-size="7.8" text-anchor="middle" fill="#111" font-weight="normal" font-style="normal" >-0.4</text>
<text x="543.40" y="148.60" font-size="7.8" text-anchor="middle" fill="#111" font-weight="normal" font-style="normal" >-0.2</text>
<text x="565.40" y="148.60" font-size="7.8" text-anchor="middle" fill="#111" font-weight="normal" font-style="normal" >0.0</text>
<text x="587.40" y="148.60" font-size="7.8" text-anchor="middle" fill="#111" font-weight="normal" font-style="normal" >0.2</text>
<text x="609.40" y="148.60" font-size="7.8" text-anchor="middle" fill="#111" font-weight="normal" font-style="normal" >0.4</text>
<text x="631.40" y="148.60" font-size="7.8" text-anchor="middle" fill="#111" font-weight="normal" font-style="normal" >0.6</text>
<text x="653.40" y="148.60" font-size="7.8" text-anchor="middle" fill="#111" font-weight="normal" font-style="normal" >0.8</text>
<rect x="601.6" y="10" width="13.4" height="6" fill="url(#hb)"/>
<rect x="601.6" y="19.6" width="13.4" height="6" fill="url(#ho)"/>
<text x="617.60" y="15.20" font-size="7.7" text-anchor="start" fill="#111" font-weight="normal" font-style="normal" >1M KOH</text>
<text x="617.60" y="24.90" font-size="7.7" text-anchor="start" fill="#111" font-weight="normal" font-style="normal" >1M NaCl</text>
<text x="570.90" y="160.70" font-size="9.5" text-anchor="middle" fill="#111" font-weight="normal" font-style="normal" >Potential (V <tspan font-family='"Liberation Serif", serif' font-style="italic">vs.</tspan> RHE)</text>
<text transform="translate(470.2,73.3) rotate(-90)" font-size="9.7" text-anchor="middle" fill="#111">H<tspan font-size="6.3" dy="2">2</tspan><tspan dy="-2">O</tspan><tspan font-size="6.3" dy="2">2</tspan><tspan dy="-2"> yield rate (mol g</tspan><tspan font-size="6.3" dy="-4">-1</tspan><tspan dy="4"> h</tspan><tspan font-size="6.3" dy="-4">-1</tspan><tspan dy="4">)</tspan></text>
<text x="5.60" y="181.20" font-size="12.5" text-anchor="start" fill="#000" font-weight="bold" font-style="normal" >d</text>
<polyline points="27.90,218.00 31.20,220.00 34.80,218.00 38.10,215.80 42.10,214.00 44.70,218.00 48.30,217.30 51.50,218.40 54.40,220.00 58.10,221.30 61.20,219.00 63.40,216.70 65.30,220.00 68.60,221.90 71.90,222.60 74.90,222.90 77.20,219.00 81.80,221.30 86.80,208.80 89.00,210.80 92.00,209.50 95.60,208.10 98.80,214.40 102.80,213.40 105.80,215.00 109.00,216.20 113.10,217.20 116.10,218.40 119.70,219.40 122.60,220.50 126.30,221.70 129.90,223.00 132.80,217.60 135.80,216.50 139.40,213.70 142.30,214.00 146.70,216.90 151.10,216.20 155.90,216.20 159.10,217.60 162.80,219.50 166.40,220.50 170.00,221.70 173.00,222.70 178.10,221.00 184.40,222.00 190.50,224.60" fill="none" stroke="#111" stroke-width="0.7" />
<line x1="81.80" y1="221.30" x2="86.80" y2="208.80" stroke="#111" stroke-width="1.1" />
<line x1="129.90" y1="223.00" x2="132.80" y2="217.60" stroke="#111" stroke-width="1.1" />
<circle cx="27.90" cy="218.00" r="1.55" fill="#fff" stroke="#333" stroke-width="0.6"/>
<circle cx="31.20" cy="220.00" r="1.55" fill="#fff" stroke="#333" stroke-width="0.6"/>
<circle cx="34.80" cy="218.00" r="1.55" fill="#fff" stroke="#333" stroke-width="0.6"/>
<circle cx="38.10" cy="215.80" r="1.55" fill="#fff" stroke="#333" stroke-width="0.6"/>
<circle cx="42.10" cy="214.00" r="1.55" fill="#fff" stroke="#333" stroke-width="0.6"/>
<circle cx="44.70" cy="218.00" r="1.55" fill="#fff" stroke="#333" stroke-width="0.6"/>
<circle cx="48.30" cy="217.30" r="1.55" fill="#fff" stroke="#333" stroke-width="0.6"/>
<circle cx="51.50" cy="218.40" r="1.55" fill="#fff" stroke="#333" stroke-width="0.6"/>
<circle cx="54.40" cy="220.00" r="1.55" fill="#fff" stroke="#333" stroke-width="0.6"/>
<circle cx="58.10" cy="221.30" r="1.55" fill="#fff" stroke="#333" stroke-width="0.6"/>
<circle cx="61.20" cy="219.00" r="1.55" fill="#fff" stroke="#333" stroke-width="0.6"/>
<circle cx="63.40" cy="216.70" r="1.55" fill="#fff" stroke="#333" stroke-width="0.6"/>
<circle cx="65.30" cy="220.00" r="1.55" fill="#fff" stroke="#333" stroke-width="0.6"/>
<circle cx="68.60" cy="221.90" r="1.55" fill="#fff" stroke="#333" stroke-width="0.6"/>
<circle cx="71.90" cy="222.60" r="1.55" fill="#fff" stroke="#333" stroke-width="0.6"/>
<circle cx="74.90" cy="222.90" r="1.55" fill="#fff" stroke="#333" stroke-width="0.6"/>
<circle cx="77.20" cy="219.00" r="1.55" fill="#fff" stroke="#333" stroke-width="0.6"/>
<circle cx="81.80" cy="221.30" r="1.55" fill="#fff" stroke="#333" stroke-width="0.6"/>
<circle cx="86.80" cy="208.80" r="1.55" fill="#fff" stroke="#333" stroke-width="0.6"/>
<circle cx="89.00" cy="210.80" r="1.55" fill="#fff" stroke="#333" stroke-width="0.6"/>
<circle cx="92.00" cy="209.50" r="1.55" fill="#fff" stroke="#333" stroke-width="0.6"/>
<circle cx="95.60" cy="208.10" r="1.55" fill="#fff" stroke="#333" stroke-width="0.6"/>
<circle cx="98.80" cy="214.40" r="1.55" fill="#fff" stroke="#333" stroke-width="0.6"/>
<circle cx="102.80" cy="213.40" r="1.55" fill="#fff" stroke="#333" stroke-width="0.6"/>
<circle cx="105.80" cy="215.00" r="1.55" fill="#fff" stroke="#333" stroke-width="0.6"/>
<circle cx="109.00" cy="216.20" r="1.55" fill="#fff" stroke="#333" stroke-width="0.6"/>
<circle cx="113.10" cy="217.20" r="1.55" fill="#fff" stroke="#333" stroke-width="0.6"/>
<circle cx="116.10" cy="218.40" r="1.55" fill="#fff" stroke="#333" stroke-width="0.6"/>
<circle cx="119.70" cy="219.40" r="1.55" fill="#fff" stroke="#333" stroke-width="0.6"/>
<circle cx="122.60" cy="220.50" r="1.55" fill="#fff" stroke="#333" stroke-width="0.6"/>
<circle cx="126.30" cy="221.70" r="1.55" fill="#fff" stroke="#333" stroke-width="0.6"/>
<circle cx="129.90" cy="223.00" r="1.55" fill="#fff" stroke="#333" stroke-width="0.6"/>
<circle cx="132.80" cy="217.60" r="1.55" fill="#fff" stroke="#333" stroke-width="0.6"/>
<circle cx="135.80" cy="216.50" r="1.55" fill="#fff" stroke="#333" stroke-width="0.6"/>
<circle cx="139.40" cy="213.70" r="1.55" fill="#fff" stroke="#333" stroke-width="0.6"/>
<circle cx="142.30" cy="214.00" r="1.55" fill="#fff" stroke="#333" stroke-width="0.6"/>
<circle cx="146.70" cy="216.90" r="1.55" fill="#fff" stroke="#333" stroke-width="0.6"/>
<circle cx="151.10" cy="216.20" r="1.55" fill="#fff" stroke="#333" stroke-width="0.6"/>
<circle cx="155.90" cy="216.20" r="1.55" fill="#fff" stroke="#333" stroke-width="0.6"/>
<circle cx="159.10" cy="217.60" r="1.55" fill="#fff" stroke="#333" stroke-width="0.6"/>
<circle cx="162.80" cy="219.50" r="1.55" fill="#fff" stroke="#333" stroke-width="0.6"/>
<circle cx="166.40" cy="220.50" r="1.55" fill="#fff" stroke="#333" stroke-width="0.6"/>
<circle cx="170.00" cy="221.70" r="1.55" fill="#fff" stroke="#333" stroke-width="0.6"/>
<circle cx="173.00" cy="222.70" r="1.55" fill="#fff" stroke="#333" stroke-width="0.6"/>
<circle cx="178.10" cy="221.00" r="1.55" fill="#fff" stroke="#333" stroke-width="0.6"/>
<circle cx="184.40" cy="222.00" r="1.55" fill="#fff" stroke="#333" stroke-width="0.6"/>
<circle cx="190.50" cy="224.60" r="1.55" fill="#fff" stroke="#333" stroke-width="0.6"/>
<polyline points="27.50,320.80 35.00,316.10 42.10,311.10 49.00,307.20 54.10,304.50 63.40,298.90 68.70,297.00 75.20,295.00 82.20,292.90 89.70,287.70 95.50,284.70 102.80,280.20 109.50,276.40 116.10,272.40 122.40,268.40 129.40,265.00 136.00,261.00 143.00,256.40 150.60,251.60 156.60,248.60 163.00,244.40 170.00,241.00 178.00,236.60 190.00,231.40" fill="none" stroke="#f81010" stroke-width="0.9" />
<circle cx="27.50" cy="320.80" r="1.75" fill="#fff" stroke="#f81010" stroke-width="0.65"/>
<circle cx="35.00" cy="316.10" r="1.75" fill="#fff" stroke="#f81010" stroke-width="0.65"/>
<circle cx="42.10" cy="311.10" r="1.75" fill="#fff" stroke="#f81010" stroke-width="0.65"/>
<circle cx="49.00" cy="307.20" r="1.75" fill="#fff" stroke="#f81010" stroke-width="0.65"/>
<circle cx="54.10" cy="304.50" r="1.75" fill="#fff" stroke="#f81010" stroke-width="0.65"/>
<circle cx="63.40" cy="298.90" r="1.75" fill="#fff" stroke="#f81010" stroke-width="0.65"/>
<circle cx="68.70" cy="297.00" r="1.75" fill="#fff" stroke="#f81010" stroke-width="0.65"/>
<circle cx="75.20" cy="295.00" r="1.75" fill="#fff" stroke="#f81010" stroke-width="0.65"/>
<circle cx="82.20" cy="292.90" r="1.75" fill="#fff" stroke="#f81010" stroke-width="0.65"/>
<circle cx="89.70" cy="287.70" r="1.75" fill="#fff" stroke="#f81010" stroke-width="0.65"/>
<circle cx="95.50" cy="284.70" r="1.75" fill="#fff" stroke="#f81010" stroke-width="0.65"/>
<circle cx="102.80" cy="280.20" r="1.75" fill="#fff" stroke="#f81010" stroke-width="0.65"/>
<circle cx="109.50" cy="276.40" r="1.75" fill="#fff" stroke="#f81010" stroke-width="0.65"/>
<circle cx="116.10" cy="272.40" r="1.75" fill="#fff" stroke="#f81010" stroke-width="0.65"/>
<circle cx="122.40" cy="268.40" r="1.75" fill="#fff" stroke="#f81010" stroke-width="0.65"/>
<circle cx="129.40" cy="265.00" r="1.75" fill="#fff" stroke="#f81010" stroke-width="0.65"/>
<circle cx="136.00" cy="261.00" r="1.75" fill="#fff" stroke="#f81010" stroke-width="0.65"/>
<circle cx="143.00" cy="256.40" r="1.75" fill="#fff" stroke="#f81010" stroke-width="0.65"/>
<circle cx="150.60" cy="251.60" r="1.75" fill="#fff" stroke="#f81010" stroke-width="0.65"/>
<circle cx="156.60" cy="248.60" r="1.75" fill="#fff" stroke="#f81010" stroke-width="0.65"/>
<circle cx="163.00" cy="244.40" r="1.75" fill="#fff" stroke="#f81010" stroke-width="0.65"/>
<circle cx="170.00" cy="241.00" r="1.75" fill="#fff" stroke="#f81010" stroke-width="0.65"/>
<circle cx="178.00" cy="236.60" r="1.75" fill="#fff" stroke="#f81010" stroke-width="0.65"/>
<circle cx="190.00" cy="231.40" r="1.75" fill="#fff" stroke="#f81010" stroke-width="0.65"/>
<text x="51.60" y="196.40" font-size="8.2" text-anchor="start" fill="#222" font-weight="normal" font-style="normal" >1<tspan font-size="5.4" dy="-3.2">st</tspan><tspan dy="3.2"> electrolyte fresh</tspan></text>
<text x="121.00" y="202.20" font-size="8.2" text-anchor="start" fill="#222" font-weight="normal" font-style="normal" >2<tspan font-size="5.4" dy="-3.2">nd</tspan><tspan dy="3.2"> fresh</tspan></text>
<line x1="86.40" y1="197.50" x2="86.40" y2="204.50" stroke="#222" stroke-width="0.8" />
<path d="M84.8,203.6 L88,203.6 L86.4,207 Z" fill="#222"/>
<line x1="133.40" y1="202.50" x2="133.40" y2="211.50" stroke="#222" stroke-width="0.8" />
<path d="M131.8,210.6 L135,210.6 L133.4,214 Z" fill="#222"/>
<line x1="178.00" y1="240.40" x2="193.50" y2="240.40" stroke="#f08080" stroke-width="0.9" />
<path d="M192.5,238.6 L196.6,240.4 L192.5,242.2 Z" fill="#f08080"/>
<text transform="translate(69.5,315.4) rotate(-29.5)" font-size="8.4" fill="#f81010">H<tspan font-size="5.5" dy="2">2</tspan><tspan dy="-2">O</tspan><tspan font-size="5.5" dy="2">2</tspan><tspan dy="-2"> yield rate</tspan><tspan font-size="4.2" dy="2"> total</tspan><tspan dy="-2"> ≈13.5 mol h</tspan><tspan font-size="5" dy="-3">-1</tspan><tspan dy="3"> g</tspan><tspan font-size="5" dy="-3">-1</tspan></text>
<text x="158.30" y="295.20" font-size="8.5" text-anchor="middle" fill="#333" font-weight="normal" font-style="normal" >Ni-BTA</text>
<text x="161.00" y="305.80" font-size="8.5" text-anchor="middle" fill="#333" font-weight="normal" font-style="normal" >1M NaCl solution</text>
<text x="164.00" y="317.40" font-size="8.5" text-anchor="middle" fill="#333" font-weight="normal" font-style="normal" ><tspan font-style="italic">j</tspan> = 100 mA cm<tspan font-size="5.2" dy="-3.4"> -2</tspan></text>
<path d="M24.6,183.6 H200 M24.6,183.6 V326 H200" stroke="#000" stroke-width="1" fill="none"/>
<line x1="200.00" y1="183.60" x2="200.00" y2="326.00" stroke="#f81010" stroke-width="1" />
<line x1="24.60" y1="325.80" x2="27.20" y2="325.80" stroke="#000" stroke-width="1" />
<line x1="24.60" y1="292.60" x2="27.20" y2="292.60" stroke="#000" stroke-width="1" />
<line x1="24.60" y1="259.40" x2="27.20" y2="259.40" stroke="#000" stroke-width="1" />
<line x1="24.60" y1="226.20" x2="27.20" y2="226.20" stroke="#000" stroke-width="1" />
<line x1="24.60" y1="193.00" x2="27.20" y2="193.00" stroke="#000" stroke-width="1" />
<line x1="24.60" y1="309.20" x2="26.10" y2="309.20" stroke="#000" stroke-width="1" />
<line x1="24.60" y1="276.00" x2="26.10" y2="276.00" stroke="#000" stroke-width="1" />
<line x1="24.60" y1="242.80" x2="26.10" y2="242.80" stroke="#000" stroke-width="1" />
<line x1="24.60" y1="209.60" x2="26.10" y2="209.60" stroke="#000" stroke-width="1" />
<line x1="200.00" y1="320.10" x2="197.40" y2="320.10" stroke="#f81010" stroke-width="1" />
<line x1="200.00" y1="292.80" x2="197.40" y2="292.80" stroke="#f81010" stroke-width="1" />
<line x1="200.00" y1="265.50" x2="197.40" y2="265.50" stroke="#f81010" stroke-width="1" />
<line x1="200.00" y1="238.20" x2="197.40" y2="238.20" stroke="#f81010" stroke-width="1" />
<line x1="200.00" y1="210.90" x2="197.40" y2="210.90" stroke="#f81010" stroke-width="1" />
<line x1="200.00" y1="183.60" x2="197.40" y2="183.60" stroke="#f81010" stroke-width="1" />
<line x1="200.00" y1="306.45" x2="198.50" y2="306.45" stroke="#f81010" stroke-width="1" />
<line x1="200.00" y1="279.15" x2="198.50" y2="279.15" stroke="#f81010" stroke-width="1" />
<line x1="200.00" y1="251.85" x2="198.50" y2="251.85" stroke="#f81010" stroke-width="1" />
<line x1="200.00" y1="224.55" x2="198.50" y2="224.55" stroke="#f81010" stroke-width="1" />
<line x1="200.00" y1="197.25" x2="198.50" y2="197.25" stroke="#f81010" stroke-width="1" />
<line x1="28.00" y1="326.00" x2="28.00" y2="323.40" stroke="#000" stroke-width="1" />
<line x1="61.80" y1="326.00" x2="61.80" y2="323.40" stroke="#000" stroke-width="1" />
<line x1="95.60" y1="326.00" x2="95.60" y2="323.40" stroke="#000" stroke-width="1" />
<line x1="129.40" y1="326.00" x2="129.40" y2="323.40" stroke="#000" stroke-width="1" />
<line x1="163.20" y1="326.00" x2="163.20" y2="323.40" stroke="#000" stroke-width="1" />
<line x1="197.00" y1="326.00" x2="197.00" y2="323.40" stroke="#000" stroke-width="1" />
<line x1="44.90" y1="326.00" x2="44.90" y2="324.50" stroke="#000" stroke-width="1" />
<line x1="78.70" y1="326.00" x2="78.70" y2="324.50" stroke="#000" stroke-width="1" />
<line x1="112.50" y1="326.00" x2="112.50" y2="324.50" stroke="#000" stroke-width="1" />
<line x1="146.30" y1="326.00" x2="146.30" y2="324.50" stroke="#000" stroke-width="1" />
<line x1="180.10" y1="326.00" x2="180.10" y2="324.50" stroke="#000" stroke-width="1" />
<text x="21.70" y="328.70" font-size="8.2" text-anchor="end" fill="#111" font-weight="normal" font-style="normal" >2</text>
<text x="21.70" y="295.50" font-size="8.2" text-anchor="end" fill="#111" font-weight="normal" font-style="normal" >3</text>
<text x="21.70" y="262.30" font-size="8.2" text-anchor="end" fill="#111" font-weight="normal" font-style="normal" >4</text>
<text x="21.70" y="229.10" font-size="8.2" text-anchor="end" fill="#111" font-weight="normal" font-style="normal" >5</text>
<text x="21.70" y="195.90" font-size="8.2" text-anchor="end" fill="#111" font-weight="normal" font-style="normal" >6</text>
<text x="203.40" y="322.50" font-size="8.2" text-anchor="start" fill="#f81010" font-weight="normal" font-style="normal" >0</text>
<text x="203.40" y="295.20" font-size="8.2" text-anchor="start" fill="#f81010" font-weight="normal" font-style="normal" >10</text>
<text x="203.40" y="267.90" font-size="8.2" text-anchor="start" fill="#f81010" font-weight="normal" font-style="normal" >20</text>
<text x="203.40" y="240.60" font-size="8.2" text-anchor="start" fill="#f81010" font-weight="normal" font-style="normal" >30</text>
<text x="203.40" y="213.30" font-size="8.2" text-anchor="start" fill="#f81010" font-weight="normal" font-style="normal" >40</text>
<text x="203.40" y="186.00" font-size="8.2" text-anchor="start" fill="#f81010" font-weight="normal" font-style="normal" >50</text>
<text x="28.00" y="336.10" font-size="8.2" text-anchor="middle" fill="#111" font-weight="normal" font-style="normal" >0</text>
<text x="61.80" y="336.10" font-size="8.2" text-anchor="middle" fill="#111" font-weight="normal" font-style="normal" >5</text>
<text x="95.60" y="336.10" font-size="8.2" text-anchor="middle" fill="#111" font-weight="normal" font-style="normal" >10</text>
<text x="129.40" y="336.10" font-size="8.2" text-anchor="middle" fill="#111" font-weight="normal" font-style="normal" >15</text>
<text x="163.20" y="336.10" font-size="8.2" text-anchor="middle" fill="#111" font-weight="normal" font-style="normal" >20</text>
<text x="197.00" y="336.10" font-size="8.2" text-anchor="middle" fill="#111" font-weight="normal" font-style="normal" >25</text>
<text x="112.50" y="351.80" font-size="10.6" text-anchor="middle" fill="#111" font-weight="normal" font-style="normal" >Time (h)</text>
<text transform="translate(9,334.7) rotate(-90)" font-size="10.85" fill="#111">Full cell voltage (V, iR<tspan font-size="6.3" dy="3.4">not-corrected</tspan><tspan dy="-3.4">)</tspan></text>
<text transform="translate(225.3,256.3) rotate(-90)" font-size="10.4" text-anchor="middle" fill="#f81010">H<tspan font-size="6.5" dy="2">2</tspan><tspan dy="-2">O</tspan><tspan font-size="6.5" dy="2">2</tspan><tspan dy="-2"> yield (mmol)</tspan></text>
<text x="246.60" y="183.20" font-size="12.5" text-anchor="start" fill="#000" font-weight="bold" font-style="normal" >e</text>
<line x1="280.00" y1="262.00" x2="652.70" y2="262.00" stroke="#f25858" stroke-width="0.8" stroke-dasharray="1.2,2.4"/>
<polyline points="301.60,210.40 317.40,210.60 332.00,213.00 343.60,218.00 364.00,216.40 374.60,223.00 389.00,229.00 404.00,234.00 420.60,209.60 433.00,214.00 448.60,213.60 462.40,217.00 477.40,218.00 492.00,219.60 506.40,222.00 521.40,208.60 536.00,210.40 553.40,212.20 565.60,218.20 580.00,216.40 595.00,220.80 612.80,222.50 639.00,226.60" fill="none" stroke="#111" stroke-width="1.1" />
<circle cx="301.60" cy="210.40" r="2.15" fill="#fff" stroke="#222" stroke-width="0.65"/>
<circle cx="317.40" cy="210.60" r="2.15" fill="#fff" stroke="#222" stroke-width="0.65"/>
<circle cx="332.00" cy="213.00" r="2.15" fill="#fff" stroke="#222" stroke-width="0.65"/>
<circle cx="343.60" cy="218.00" r="2.15" fill="#fff" stroke="#222" stroke-width="0.65"/>
<circle cx="364.00" cy="216.40" r="2.15" fill="#fff" stroke="#222" stroke-width="0.65"/>
<circle cx="374.60" cy="223.00" r="2.15" fill="#fff" stroke="#222" stroke-width="0.65"/>
<circle cx="389.00" cy="229.00" r="2.15" fill="#fff" stroke="#222" stroke-width="0.65"/>
<circle cx="404.00" cy="234.00" r="2.15" fill="#fff" stroke="#222" stroke-width="0.65"/>
<circle cx="420.60" cy="209.60" r="2.15" fill="#fff" stroke="#222" stroke-width="0.65"/>
<circle cx="433.00" cy="214.00" r="2.15" fill="#fff" stroke="#222" stroke-width="0.65"/>
<circle cx="448.60" cy="213.60" r="2.15" fill="#fff" stroke="#222" stroke-width="0.65"/>
<circle cx="462.40" cy="217.00" r="2.15" fill="#fff" stroke="#222" stroke-width="0.65"/>
<circle cx="477.40" cy="218.00" r="2.15" fill="#fff" stroke="#222" stroke-width="0.65"/>
<circle cx="492.00" cy="219.60" r="2.15" fill="#fff" stroke="#222" stroke-width="0.65"/>
<circle cx="506.40" cy="222.00" r="2.15" fill="#fff" stroke="#222" stroke-width="0.65"/>
<circle cx="521.40" cy="208.60" r="2.15" fill="#fff" stroke="#222" stroke-width="0.65"/>
<circle cx="536.00" cy="210.40" r="2.15" fill="#fff" stroke="#222" stroke-width="0.65"/>
<circle cx="553.40" cy="212.20" r="2.15" fill="#fff" stroke="#222" stroke-width="0.65"/>
<circle cx="565.60" cy="218.20" r="2.15" fill="#fff" stroke="#222" stroke-width="0.65"/>
<circle cx="580.00" cy="216.40" r="2.15" fill="#fff" stroke="#222" stroke-width="0.65"/>
<circle cx="595.00" cy="220.80" r="2.15" fill="#fff" stroke="#222" stroke-width="0.65"/>
<circle cx="612.80" cy="222.50" r="2.15" fill="#fff" stroke="#222" stroke-width="0.65"/>
<circle cx="639.00" cy="226.60" r="2.15" fill="#fff" stroke="#222" stroke-width="0.65"/>
<polyline points="286.60,315.60 302.00,305.40 317.40,295.60 332.40,286.20 343.50,281.20 363.80,268.20 374.60,264.40 389.00,260.20 404.00,255.40 404.00,315.40 420.00,305.00 433.00,297.40 448.80,287.00 462.40,279.30 477.40,271.40 492.00,263.00 506.40,255.40 506.40,315.40 520.60,307.60 538.00,297.60 553.50,286.00 565.60,280.20 580.40,270.00 595.00,263.50 612.70,254.00 639.00,241.60" fill="none" stroke="#f81010" stroke-width="1.3" />
<rect x="284.65" y="313.65" width="3.9" height="3.9" fill="#fff" stroke="#f81010" stroke-width="0.65"/>
<rect x="300.05" y="303.45" width="3.9" height="3.9" fill="#fff" stroke="#f81010" stroke-width="0.65"/>
<rect x="315.45" y="293.65" width="3.9" height="3.9" fill="#fff" stroke="#f81010" stroke-width="0.65"/>
<rect x="330.45" y="284.25" width="3.9" height="3.9" fill="#fff" stroke="#f81010" stroke-width="0.65"/>
<rect x="341.55" y="279.25" width="3.9" height="3.9" fill="#fff" stroke="#f81010" stroke-width="0.65"/>
<rect x="361.85" y="266.25" width="3.9" height="3.9" fill="#fff" stroke="#f81010" stroke-width="0.65"/>
<rect x="372.65" y="262.45" width="3.9" height="3.9" fill="#fff" stroke="#f81010" stroke-width="0.65"/>
<rect x="387.05" y="258.25" width="3.9" height="3.9" fill="#fff" stroke="#f81010" stroke-width="0.65"/>
<rect x="402.05" y="253.45" width="3.9" height="3.9" fill="#fff" stroke="#f81010" stroke-width="0.65"/>
<rect x="402.05" y="313.45" width="3.9" height="3.9" fill="#fff" stroke="#f81010" stroke-width="0.65"/>
<rect x="418.05" y="303.05" width="3.9" height="3.9" fill="#fff" stroke="#f81010" stroke-width="0.65"/>
<rect x="431.05" y="295.45" width="3.9" height="3.9" fill="#fff" stroke="#f81010" stroke-width="0.65"/>
<rect x="446.85" y="285.05" width="3.9" height="3.9" fill="#fff" stroke="#f81010" stroke-width="0.65"/>
<rect x="460.45" y="277.35" width="3.9" height="3.9" fill="#fff" stroke="#f81010" stroke-width="0.65"/>
<rect x="475.45" y="269.45" width="3.9" height="3.9" fill="#fff" stroke="#f81010" stroke-width="0.65"/>
<rect x="490.05" y="261.05" width="3.9" height="3.9" fill="#fff" stroke="#f81010" stroke-width="0.65"/>
<rect x="504.45" y="253.45" width="3.9" height="3.9" fill="#fff" stroke="#f81010" stroke-width="0.65"/>
<rect x="504.45" y="313.45" width="3.9" height="3.9" fill="#fff" stroke="#f81010" stroke-width="0.65"/>
<rect x="518.65" y="305.65" width="3.9" height="3.9" fill="#fff" stroke="#f81010" stroke-width="0.65"/>
<rect x="536.05" y="295.65" width="3.9" height="3.9" fill="#fff" stroke="#f81010" stroke-width="0.65"/>
<rect x="551.55" y="284.05" width="3.9" height="3.9" fill="#fff" stroke="#f81010" stroke-width="0.65"/>
<rect x="563.65" y="278.25" width="3.9" height="3.9" fill="#fff" stroke="#f81010" stroke-width="0.65"/>
<rect x="578.45" y="268.05" width="3.9" height="3.9" fill="#fff" stroke="#f81010" stroke-width="0.65"/>
<rect x="593.05" y="261.55" width="3.9" height="3.9" fill="#fff" stroke="#f81010" stroke-width="0.65"/>
<rect x="610.75" y="252.05" width="3.9" height="3.9" fill="#fff" stroke="#f81010" stroke-width="0.65"/>
<rect x="637.05" y="239.65" width="3.9" height="3.9" fill="#fff" stroke="#f81010" stroke-width="0.65"/>
<text x="389.00" y="194.60" font-size="8.3" text-anchor="start" fill="#222" font-weight="normal" font-style="normal" >1<tspan font-size="5.4" dy="-3.2">st</tspan><tspan dy="3.2"> electrolyte fresh</tspan></text>
<text x="508.00" y="195.80" font-size="8.3" text-anchor="start" fill="#222" font-weight="normal" font-style="normal" >2<tspan font-size="5.4" dy="-3.2">nd</tspan><tspan dy="3.2"> fresh</tspan></text>
<line x1="420.20" y1="196.50" x2="420.20" y2="203.00" stroke="#222" stroke-width="0.8" />
<path d="M418.6,202.2 L421.8,202.2 L420.2,205.6 Z" fill="#222"/>
<line x1="521.40" y1="196.80" x2="521.40" y2="203.00" stroke="#222" stroke-width="0.8" />
<path d="M519.8,202.2 L523,202.2 L521.4,205.6 Z" fill="#222"/>
<text x="445.90" y="248.20" font-size="9.5" text-anchor="start" fill="#f81010" font-weight="normal" font-style="normal" >H<tspan font-size="6.3" dy="2">2</tspan><tspan dy="-2">O</tspan><tspan font-size="6.3" dy="2">2</tspan><tspan dy="-2"> concentration over 1 wt.%</tspan></text>
<text x="609.00" y="292.60" font-size="8.3" text-anchor="middle" fill="#222" font-weight="normal" font-style="normal" >Ni-BTA</text>
<text x="611.80" y="303.40" font-size="8.3" text-anchor="middle" fill="#222" font-weight="normal" font-style="normal" >1M NaCl solution</text>
<text x="614.60" y="314.80" font-size="8.3" text-anchor="middle" fill="#222" font-weight="normal" font-style="normal" ><tspan font-style="italic">j</tspan> = 100 mA cm<tspan font-size="5.2" dy="-3.4"> -2</tspan></text>
<path d="M279.4,183.8 H653.2 M279.4,183.8 V326 H653.2" stroke="#000" stroke-width="1" fill="none"/>
<line x1="653.20" y1="183.80" x2="653.20" y2="326.00" stroke="#f81010" stroke-width="1" />
<line x1="279.40" y1="325.75" x2="282.00" y2="325.75" stroke="#000" stroke-width="1" />
<line x1="279.40" y1="298.68" x2="282.00" y2="298.68" stroke="#000" stroke-width="1" />
<line x1="279.40" y1="271.61" x2="282.00" y2="271.61" stroke="#000" stroke-width="1" />
<line x1="279.40" y1="244.54" x2="282.00" y2="244.54" stroke="#000" stroke-width="1" />
<line x1="279.40" y1="217.47" x2="282.00" y2="217.47" stroke="#000" stroke-width="1" />
<line x1="279.40" y1="190.40" x2="282.00" y2="190.40" stroke="#000" stroke-width="1" />
<line x1="279.40" y1="312.21" x2="280.90" y2="312.21" stroke="#000" stroke-width="1" />
<line x1="279.40" y1="285.14" x2="280.90" y2="285.14" stroke="#000" stroke-width="1" />
<line x1="279.40" y1="258.07" x2="280.90" y2="258.07" stroke="#000" stroke-width="1" />
<line x1="279.40" y1="231.00" x2="280.90" y2="231.00" stroke="#000" stroke-width="1" />
<line x1="279.40" y1="203.94" x2="280.90" y2="203.94" stroke="#000" stroke-width="1" />
<line x1="653.20" y1="315.10" x2="650.60" y2="315.10" stroke="#f81010" stroke-width="1" />
<line x1="653.20" y1="288.80" x2="650.60" y2="288.80" stroke="#f81010" stroke-width="1" />
<line x1="653.20" y1="262.50" x2="650.60" y2="262.50" stroke="#f81010" stroke-width="1" />
<line x1="653.20" y1="236.20" x2="650.60" y2="236.20" stroke="#f81010" stroke-width="1" />
<line x1="653.20" y1="209.90" x2="650.60" y2="209.90" stroke="#f81010" stroke-width="1" />
<line x1="653.20" y1="183.60" x2="650.60" y2="183.60" stroke="#f81010" stroke-width="1" />
<line x1="653.20" y1="301.95" x2="651.70" y2="301.95" stroke="#f81010" stroke-width="1" />
<line x1="653.20" y1="275.65" x2="651.70" y2="275.65" stroke="#f81010" stroke-width="1" />
<line x1="653.20" y1="249.35" x2="651.70" y2="249.35" stroke="#f81010" stroke-width="1" />
<line x1="653.20" y1="223.05" x2="651.70" y2="223.05" stroke="#f81010" stroke-width="1" />
<line x1="653.20" y1="196.75" x2="651.70" y2="196.75" stroke="#f81010" stroke-width="1" />
<line x1="286.60" y1="326.00" x2="286.60" y2="323.40" stroke="#000" stroke-width="1" />
<line x1="359.95" y1="326.00" x2="359.95" y2="323.40" stroke="#000" stroke-width="1" />
<line x1="433.30" y1="326.00" x2="433.30" y2="323.40" stroke="#000" stroke-width="1" />
<line x1="506.65" y1="326.00" x2="506.65" y2="323.40" stroke="#000" stroke-width="1" />
<line x1="580.00" y1="326.00" x2="580.00" y2="323.40" stroke="#000" stroke-width="1" />
<line x1="653.35" y1="326.00" x2="653.35" y2="323.40" stroke="#000" stroke-width="1" />
<line x1="323.28" y1="326.00" x2="323.28" y2="324.50" stroke="#000" stroke-width="1" />
<line x1="396.62" y1="326.00" x2="396.62" y2="324.50" stroke="#000" stroke-width="1" />
<line x1="469.98" y1="326.00" x2="469.98" y2="324.50" stroke="#000" stroke-width="1" />
<line x1="543.33" y1="326.00" x2="543.33" y2="324.50" stroke="#000" stroke-width="1" />
<line x1="616.67" y1="326.00" x2="616.67" y2="324.50" stroke="#000" stroke-width="1" />
<text x="276.30" y="328.65" font-size="8.3" text-anchor="end" fill="#111" font-weight="normal" font-style="normal" >0</text>
<text x="276.30" y="301.58" font-size="8.3" text-anchor="end" fill="#111" font-weight="normal" font-style="normal" >20</text>
<text x="276.30" y="274.51" font-size="8.3" text-anchor="end" fill="#111" font-weight="normal" font-style="normal" >40</text>
<text x="276.30" y="247.44" font-size="8.3" text-anchor="end" fill="#111" font-weight="normal" font-style="normal" >60</text>
<text x="276.30" y="220.37" font-size="8.3" text-anchor="end" fill="#111" font-weight="normal" font-style="normal" >80</text>
<text x="276.30" y="193.30" font-size="8.3" text-anchor="end" fill="#111" font-weight="normal" font-style="normal" >100</text>
<text x="656.50" y="318.00" font-size="8.3" text-anchor="start" fill="#f81010" font-weight="normal" font-style="normal" >0</text>
<text x="656.50" y="291.70" font-size="8.3" text-anchor="start" fill="#f81010" font-weight="normal" font-style="normal" >5</text>
<text x="656.50" y="265.40" font-size="8.3" text-anchor="start" fill="#f81010" font-weight="normal" font-style="normal" >10</text>
<text x="656.50" y="239.10" font-size="8.3" text-anchor="start" fill="#f81010" font-weight="normal" font-style="normal" >15</text>
<text x="656.50" y="212.80" font-size="8.3" text-anchor="start" fill="#f81010" font-weight="normal" font-style="normal" >20</text>
<text x="656.50" y="186.50" font-size="8.3" text-anchor="start" fill="#f81010" font-weight="normal" font-style="normal" >25</text>
<text x="286.60" y="336.00" font-size="8.3" text-anchor="middle" fill="#111" font-weight="normal" font-style="normal" >0</text>
<text x="359.95" y="336.00" font-size="8.3" text-anchor="middle" fill="#111" font-weight="normal" font-style="normal" >5</text>
<text x="433.30" y="336.00" font-size="8.3" text-anchor="middle" fill="#111" font-weight="normal" font-style="normal" >10</text>
<text x="506.65" y="336.00" font-size="8.3" text-anchor="middle" fill="#111" font-weight="normal" font-style="normal" >15</text>
<text x="580.00" y="336.00" font-size="8.3" text-anchor="middle" fill="#111" font-weight="normal" font-style="normal" >20</text>
<text x="653.35" y="336.00" font-size="8.3" text-anchor="middle" fill="#111" font-weight="normal" font-style="normal" >25</text>
<text x="467.00" y="351.80" font-size="10.4" text-anchor="middle" fill="#111" font-weight="normal" font-style="normal" >Time (h)</text>
<text transform="translate(253.8,255.2) rotate(-90)" font-size="10.8" text-anchor="middle" fill="#111">H<tspan font-size="6.8" dy="2">2</tspan><tspan dy="-2">O</tspan><tspan font-size="6.8" dy="2">2</tspan><tspan dy="-2"> FE</tspan><tspan font-size="6.2" dy="3">total</tspan><tspan dy="-3"> (%)</tspan></text>
<text transform="translate(681.3,255.9) rotate(-90)" font-size="10.8" text-anchor="middle" fill="#f81010">H<tspan font-size="6.8" dy="2">2</tspan><tspan dy="-2">O</tspan><tspan font-size="6.8" dy="2">2</tspan><tspan dy="-2"> concentration (g L</tspan><tspan font-size="6.5" dy="-4">-1</tspan><tspan dy="4">)</tspan></text>
<text x="5.20" y="363.20" font-size="12.5" text-anchor="start" fill="#000" font-weight="bold" font-style="normal" >f</text>
<polyline points="27.00,493.20 27.70,493.20 28.41,493.20 29.11,493.20 29.82,493.20 30.52,493.20 31.22,493.20 31.93,493.20 32.63,493.20 33.34,493.20 34.04,493.19 34.74,493.19 35.45,493.19 36.15,493.19 36.86,493.19 37.56,493.19 38.26,493.19 38.97,493.19 39.67,493.19 40.38,493.19 41.08,493.19 41.78,493.19 42.49,493.19 43.19,493.19 43.90,493.19 44.60,493.19 45.30,493.19 46.01,493.18 46.71,493.18 47.42,493.18 48.12,493.18 48.82,493.18 49.53,493.18 50.23,493.18 50.94,493.18 51.64,493.18 52.34,493.18 53.05,493.18 53.75,493.18 54.46,493.18 55.16,493.17 55.86,493.17 56.57,493.17 57.27,493.17 57.98,493.17 58.68,493.17 59.38,493.17 60.09,493.17 60.79,493.17 61.50,493.17 62.20,493.17 62.90,493.17 63.61,493.17 64.31,493.17 65.02,493.17 65.72,493.17 66.42,493.17 67.13,493.16 67.83,493.16 68.54,493.16 69.24,493.16 69.94,493.16 70.65,493.16 71.35,493.16 72.06,493.16 72.76,493.16 73.46,493.16 74.17,493.16 74.87,493.16 75.58,493.16 76.28,493.16 76.98,493.15 77.69,493.15 78.39,493.15 79.10,493.15 79.80,493.15 80.50,493.15 81.21,493.15 81.91,493.15 82.62,493.14 83.32,493.14 84.02,493.14 84.73,493.14 85.43,493.14 86.14,493.14 86.84,493.13 87.54,493.13 88.25,493.13 88.95,493.13 89.66,493.12 90.36,493.12 91.06,493.12 91.77,493.12 92.47,493.11 93.18,493.11 93.88,493.11 94.58,493.11 95.29,493.10 95.99,493.10 96.70,493.10 97.40,493.09 98.10,493.09 98.81,493.09 99.51,493.08 100.22,493.08 100.92,493.08 101.62,493.07 102.33,493.07 103.03,493.07 103.74,493.06 104.44,493.06 105.14,493.06 105.85,493.05 106.55,493.05 107.26,493.05 107.96,493.04 108.66,493.04 109.37,493.04 110.07,493.03 110.78,493.03 111.48,493.03 112.18,493.02 112.89,493.02 113.59,493.02 114.30,493.02 115.00,493.01 115.70,493.01 116.41,493.01 117.11,493.00 117.82,493.00 118.52,493.00 119.22,493.00 119.93,493.00 120.63,492.99 121.34,492.99 122.04,492.99 122.74,492.99 123.45,492.98 124.15,492.98 124.86,492.98 125.56,492.98 126.26,492.98 126.97,492.98 127.67,492.97 128.38,492.97 129.08,492.97 129.78,492.97 130.49,492.97 131.19,492.97 131.90,492.96 132.60,492.96 133.30,492.96 134.01,492.96 134.71,492.96 135.42,492.95 136.12,492.95 136.82,492.95 137.53,492.95 138.23,492.94 138.94,492.94 139.64,492.94 140.34,492.93 141.05,492.93 141.75,492.92 142.46,492.92 143.16,492.91 143.86,492.91 144.57,492.90 145.27,492.90 145.98,492.89 146.68,492.89 147.38,492.88 148.09,492.87 148.79,492.86 149.50,492.86 150.20,492.85 150.90,492.84 151.61,492.83 152.31,492.82 153.02,492.81 153.72,492.80 154.42,492.79 155.13,492.78 155.83,492.77 156.54,492.76 157.24,492.75 157.94,492.74 158.65,492.73 159.35,492.72 160.06,492.71 160.76,492.70 161.46,492.69 162.17,492.68 162.87,492.67 163.58,492.67 164.28,492.66 164.98,492.65 165.69,492.64 166.39,492.63 167.10,492.63 167.80,492.62 168.50,492.62 169.21,492.61 169.91,492.61 170.62,492.60 171.32,492.60 172.02,492.60 172.73,492.60 173.43,492.60 174.14,492.60 174.84,492.60 175.54,492.61 176.25,492.61 176.95,492.61 177.66,492.62 178.36,492.62 179.06,492.63 179.77,492.64 180.47,492.65 181.18,492.66 181.88,492.67 182.58,492.68 183.29,492.69 183.99,492.70 184.70,492.71 185.40,492.72 186.10,492.74 186.81,492.75 187.51,492.76 188.22,492.78 188.92,492.79 189.62,492.81 190.33,492.82 191.03,492.84 191.74,492.85 192.44,492.86 193.14,492.88 193.85,492.89 194.55,492.91 195.26,492.92 195.96,492.93 196.66,492.95 197.37,492.96 198.07,492.97 198.78,492.99 199.48,493.00 200.18,493.01 200.89,493.02 201.59,493.03 202.30,493.04 203.00,493.05 203.70,493.06 204.41,493.07 205.11,493.08 205.82,493.09 206.52,493.10 207.22,493.11 207.93,493.11 208.63,493.12 209.34,493.13 210.04,493.13 210.74,493.14 211.45,493.14 212.15,493.15 212.86,493.15 213.56,493.16 214.26,493.16 214.97,493.16 215.67,493.17 216.38,493.17 217.08,493.17 217.78,493.18 218.49,493.18 219.19,493.18 219.90,493.18 220.60,493.18 221.30,493.19 222.01,493.19 222.71,493.19 223.42,493.19 224.12,493.19 224.82,493.19 225.53,493.19 226.23,493.19 226.94,493.19 227.64,493.20 228.34,493.20 229.05,493.20 229.75,493.20 230.46,493.20 231.16,493.20 231.86,493.20 232.57,493.20 233.27,493.20 233.98,493.20 234.68,493.20 235.38,493.20 236.09,493.20 236.79,493.20 237.50,493.20 238.20,493.20 238.90,493.20 239.61,493.20 240.31,493.20 241.02,493.20 241.72,493.20 242.42,493.20 243.13,493.20 243.83,493.20 244.54,493.20 245.24,493.20 245.94,493.20 246.65,493.20 247.35,493.20 248.06,493.20 248.76,493.20 249.46,493.20 250.17,493.20 250.87,493.20 251.58,493.20 252.28,493.20 252.98,493.20 253.69,493.20 254.39,493.20 255.10,493.20 255.80,493.20 256.50,493.20 257.21,493.20 257.91,493.20 258.62,493.20 259.32,493.20 260.02,493.20 260.73,493.20 261.43,493.20 262.14,493.20 262.84,493.20 263.54,493.20 264.25,493.20 264.95,493.20 265.66,493.20 266.36,493.20 267.06,493.20 267.77,493.20 268.47,493.20 269.18,493.20 269.88,493.20 270.58,493.20 271.29,493.20 271.99,493.20 272.70,493.20 273.40,493.20 274.10,493.20 274.81,493.20 275.51,493.20 276.22,493.20 276.92,493.20 277.62,493.20 278.33,493.20 279.03,493.20 279.74,493.20 280.44,493.20 281.14,493.20 281.85,493.20 282.55,493.20 283.26,493.20 283.96,493.20 284.66,493.20 285.37,493.20 286.07,493.20 286.78,493.20 287.48,493.20 288.18,493.20 288.89,493.20 289.59,493.20 290.30,493.20 291.00,493.20 291.70,493.20 292.41,493.20 293.11,493.20 293.82,493.20 294.52,493.20 295.22,493.20 295.93,493.20 296.63,493.20 297.34,493.20 298.04,493.20 298.74,493.20 299.45,493.20 300.15,493.20 300.86,493.20 301.56,493.20 302.26,493.20 302.97,493.20 303.67,493.20 304.38,493.20 305.08,493.20 305.78,493.20 306.49,493.20 307.19,493.20 307.90,493.20 308.60,493.20" fill="none" stroke="#fcd8e8" stroke-width="1.0" stroke-linejoin="round"/>
<polyline points="27.00,493.19 27.70,493.19 28.41,493.19 29.11,493.18 29.82,493.18 30.52,493.18 31.22,493.18 31.93,493.18 32.63,493.18 33.34,493.18 34.04,493.17 34.74,493.17 35.45,493.17 36.15,493.17 36.86,493.16 37.56,493.16 38.26,493.16 38.97,493.16 39.67,493.15 40.38,493.15 41.08,493.15 41.78,493.14 42.49,493.14 43.19,493.14 43.90,493.13 44.60,493.13 45.30,493.13 46.01,493.12 46.71,493.12 47.42,493.12 48.12,493.11 48.82,493.11 49.53,493.10 50.23,493.10 50.94,493.10 51.64,493.09 52.34,493.09 53.05,493.09 53.75,493.08 54.46,493.08 55.16,493.07 55.86,493.07 56.57,493.07 57.27,493.06 57.98,493.06 58.68,493.06 59.38,493.05 60.09,493.05 60.79,493.05 61.50,493.05 62.20,493.04 62.90,493.04 63.61,493.04 64.31,493.03 65.02,493.03 65.72,493.03 66.42,493.03 67.13,493.02 67.83,493.02 68.54,493.02 69.24,493.01 69.94,493.01 70.65,493.01 71.35,493.00 72.06,493.00 72.76,493.00 73.46,492.99 74.17,492.99 74.87,492.99 75.58,492.98 76.28,492.98 76.98,492.97 77.69,492.97 78.39,492.96 79.10,492.95 79.80,492.95 80.50,492.94 81.21,492.94 81.91,492.93 82.62,492.92 83.32,492.91 84.02,492.90 84.73,492.89 85.43,492.89 86.14,492.88 86.84,492.87 87.54,492.85 88.25,492.84 88.95,492.83 89.66,492.82 90.36,492.81 91.06,492.80 91.77,492.78 92.47,492.77 93.18,492.76 93.88,492.74 94.58,492.73 95.29,492.71 95.99,492.70 96.70,492.68 97.40,492.67 98.10,492.65 98.81,492.63 99.51,492.62 100.22,492.60 100.92,492.59 101.62,492.57 102.33,492.55 103.03,492.53 103.74,492.52 104.44,492.50 105.14,492.48 105.85,492.47 106.55,492.45 107.26,492.43 107.96,492.42 108.66,492.40 109.37,492.38 110.07,492.37 110.78,492.35 111.48,492.34 112.18,492.32 112.89,492.31 113.59,492.29 114.30,492.28 115.00,492.26 115.70,492.25 116.41,492.24 117.11,492.22 117.82,492.21 118.52,492.20 119.22,492.19 119.93,492.18 120.63,492.16 121.34,492.15 122.04,492.14 122.74,492.13 123.45,492.12 124.15,492.11 124.86,492.10 125.56,492.10 126.26,492.09 126.97,492.08 127.67,492.07 128.38,492.06 129.08,492.05 129.78,492.04 130.49,492.04 131.19,492.03 131.90,492.02 132.60,492.01 133.30,492.00 134.01,491.99 134.71,491.98 135.42,491.97 136.12,491.95 136.82,491.94 137.53,491.93 138.23,491.91 138.94,491.90 139.64,491.88 140.34,491.86 141.05,491.84 141.75,491.82 142.46,491.80 143.16,491.77 143.86,491.75 144.57,491.72 145.27,491.69 145.98,491.66 146.68,491.63 147.38,491.60 148.09,491.56 148.79,491.52 149.50,491.48 150.20,491.44 150.90,491.40 151.61,491.36 152.31,491.31 153.02,491.27 153.72,491.22 154.42,491.17 155.13,491.12 155.83,491.07 156.54,491.02 157.24,490.97 157.94,490.92 158.65,490.87 159.35,490.82 160.06,490.76 160.76,490.71 161.46,490.67 162.17,490.62 162.87,490.57 163.58,490.53 164.28,490.48 164.98,490.44 165.69,490.41 166.39,490.37 167.10,490.34 167.80,490.31 168.50,490.28 169.21,490.26 169.91,490.24 170.62,490.22 171.32,490.21 172.02,490.20 172.73,490.20 173.43,490.20 174.14,490.21 174.84,490.21 175.54,490.23 176.25,490.25 176.95,490.27 177.66,490.29 178.36,490.32 179.06,490.36 179.77,490.40 180.47,490.44 181.18,490.48 181.88,490.53 182.58,490.58 183.29,490.64 183.99,490.70 184.70,490.76 185.40,490.82 186.10,490.89 186.81,490.95 187.51,491.02 188.22,491.09 188.92,491.16 189.62,491.23 190.33,491.31 191.03,491.38 191.74,491.45 192.44,491.52 193.14,491.59 193.85,491.67 194.55,491.74 195.26,491.81 195.96,491.87 196.66,491.94 197.37,492.01 198.07,492.07 198.78,492.13 199.48,492.20 200.18,492.25 200.89,492.31 201.59,492.37 202.30,492.42 203.00,492.47 203.70,492.52 204.41,492.56 205.11,492.61 205.82,492.65 206.52,492.69 207.22,492.73 207.93,492.76 208.63,492.80 209.34,492.83 210.04,492.86 210.74,492.89 211.45,492.91 212.15,492.94 212.86,492.96 213.56,492.98 214.26,493.00 214.97,493.02 215.67,493.03 216.38,493.05 217.08,493.06 217.78,493.08 218.49,493.09 219.19,493.10 219.90,493.11 220.60,493.12 221.30,493.13 222.01,493.14 222.71,493.14 223.42,493.15 224.12,493.15 224.82,493.16 225.53,493.16 226.23,493.17 226.94,493.17 227.64,493.18 228.34,493.18 229.05,493.18 229.75,493.18 230.46,493.19 231.16,493.19 231.86,493.19 232.57,493.19 233.27,493.19 233.98,493.19 234.68,493.19 235.38,493.19 236.09,493.20 236.79,493.20 237.50,493.20 238.20,493.20 238.90,493.20 239.61,493.20 240.31,493.20 241.02,493.20 241.72,493.20 242.42,493.20 243.13,493.20 243.83,493.20 244.54,493.20 245.24,493.20 245.94,493.20 246.65,493.20 247.35,493.20 248.06,493.20 248.76,493.20 249.46,493.20 250.17,493.20 250.87,493.20 251.58,493.20 252.28,493.20 252.98,493.20 253.69,493.20 254.39,493.20 255.10,493.20 255.80,493.20 256.50,493.20 257.21,493.20 257.91,493.20 258.62,493.20 259.32,493.20 260.02,493.20 260.73,493.20 261.43,493.20 262.14,493.20 262.84,493.20 263.54,493.20 264.25,493.20 264.95,493.20 265.66,493.20 266.36,493.20 267.06,493.20 267.77,493.20 268.47,493.20 269.18,493.20 269.88,493.20 270.58,493.20 271.29,493.20 271.99,493.20 272.70,493.20 273.40,493.20 274.10,493.20 274.81,493.20 275.51,493.20 276.22,493.20 276.92,493.20 277.62,493.20 278.33,493.20 279.03,493.20 279.74,493.20 280.44,493.20 281.14,493.20 281.85,493.20 282.55,493.20 283.26,493.20 283.96,493.20 284.66,493.20 285.37,493.20 286.07,493.20 286.78,493.20 287.48,493.20 288.18,493.20 288.89,493.20 289.59,493.20 290.30,493.20 291.00,493.20 291.70,493.20 292.41,493.20 293.11,493.20 293.82,493.20 294.52,493.20 295.22,493.20 295.93,493.20 296.63,493.20 297.34,493.20 298.04,493.20 298.74,493.20 299.45,493.20 300.15,493.20 300.86,493.20 301.56,493.20 302.26,493.20 302.97,493.20 303.67,493.20 304.38,493.20 305.08,493.20 305.78,493.20 306.49,493.20 307.19,493.20 307.90,493.20 308.60,493.20" fill="none" stroke="#fbc4dd" stroke-width="1.0" stroke-linejoin="round"/>
<polyline points="27.00,493.13 27.70,493.13 28.41,493.12 29.11,493.11 29.82,493.10 30.52,493.10 31.22,493.09 31.93,493.08 32.63,493.07 33.34,493.05 34.04,493.04 34.74,493.03 35.45,493.02 36.15,493.00 36.86,492.99 37.56,492.97 38.26,492.96 38.97,492.94 39.67,492.92 40.38,492.91 41.08,492.89 41.78,492.87 42.49,492.85 43.19,492.83 43.90,492.81 44.60,492.79 45.30,492.77 46.01,492.75 46.71,492.73 47.42,492.71 48.12,492.68 48.82,492.66 49.53,492.64 50.23,492.62 50.94,492.60 51.64,492.57 52.34,492.55 53.05,492.53 53.75,492.51 54.46,492.49 55.16,492.47 55.86,492.45 56.57,492.43 57.27,492.41 57.98,492.39 58.68,492.37 59.38,492.35 60.09,492.33 60.79,492.31 61.50,492.30 62.20,492.28 62.90,492.26 63.61,492.25 64.31,492.23 65.02,492.21 65.72,492.20 66.42,492.18 67.13,492.16 67.83,492.15 68.54,492.13 69.24,492.11 69.94,492.10 70.65,492.08 71.35,492.06 72.06,492.04 72.76,492.02 73.46,492.00 74.17,491.97 74.87,491.95 75.58,491.92 76.28,491.90 76.98,491.87 77.69,491.84 78.39,491.80 79.10,491.77 79.80,491.73 80.50,491.70 81.21,491.65 81.91,491.61 82.62,491.57 83.32,491.52 84.02,491.47 84.73,491.42 85.43,491.36 86.14,491.31 86.84,491.25 87.54,491.19 88.25,491.12 88.95,491.05 89.66,490.99 90.36,490.91 91.06,490.84 91.77,490.76 92.47,490.69 93.18,490.61 93.88,490.52 94.58,490.44 95.29,490.35 95.99,490.27 96.70,490.18 97.40,490.09 98.10,489.99 98.81,489.90 99.51,489.80 100.22,489.71 100.92,489.61 101.62,489.52 102.33,489.42 103.03,489.32 103.74,489.22 104.44,489.12 105.14,489.02 105.85,488.93 106.55,488.83 107.26,488.73 107.96,488.63 108.66,488.54 109.37,488.44 110.07,488.35 110.78,488.26 111.48,488.17 112.18,488.08 112.89,487.99 113.59,487.90 114.30,487.82 115.00,487.74 115.70,487.66 116.41,487.58 117.11,487.50 117.82,487.43 118.52,487.36 119.22,487.29 119.93,487.22 120.63,487.16 121.34,487.09 122.04,487.03 122.74,486.97 123.45,486.92 124.15,486.86 124.86,486.81 125.56,486.76 126.26,486.71 126.97,486.65 127.67,486.61 128.38,486.56 129.08,486.51 129.78,486.46 130.49,486.41 131.19,486.35 131.90,486.30 132.60,486.25 133.30,486.19 134.01,486.13 134.71,486.07 135.42,486.00 136.12,485.93 136.82,485.85 137.53,485.77 138.23,485.69 138.94,485.59 139.64,485.49 140.34,485.39 141.05,485.27 141.75,485.15 142.46,485.02 143.16,484.88 143.86,484.73 144.57,484.57 145.27,484.40 145.98,484.23 146.68,484.04 147.38,483.84 148.09,483.63 148.79,483.42 149.50,483.19 150.20,482.95 150.90,482.71 151.61,482.45 152.31,482.19 153.02,481.92 153.72,481.64 154.42,481.36 155.13,481.07 155.83,480.78 156.54,480.48 157.24,480.19 157.94,479.89 158.65,479.59 159.35,479.29 160.06,478.99 160.76,478.70 161.46,478.42 162.17,478.14 162.87,477.87 163.58,477.61 164.28,477.36 164.98,477.12 165.69,476.90 166.39,476.69 167.10,476.50 167.80,476.33 168.50,476.17 169.21,476.04 169.91,475.93 170.62,475.83 171.32,475.77 172.02,475.72 172.73,475.70 173.43,475.70 174.14,475.73 174.84,475.79 175.54,475.86 176.25,475.97 176.95,476.10 177.66,476.25 178.36,476.42 179.06,476.62 179.77,476.85 180.47,477.09 181.18,477.36 181.88,477.64 182.58,477.95 183.29,478.27 183.99,478.60 184.70,478.96 185.40,479.32 186.10,479.70 186.81,480.09 187.51,480.49 188.22,480.90 188.92,481.31 189.62,481.73 190.33,482.15 191.03,482.57 191.74,482.99 192.44,483.41 193.14,483.83 193.85,484.25 194.55,484.66 195.26,485.07 195.96,485.47 196.66,485.86 197.37,486.24 198.07,486.62 198.78,486.98 199.48,487.34 200.18,487.68 200.89,488.01 201.59,488.33 202.30,488.64 203.00,488.93 203.70,489.22 204.41,489.49 205.11,489.75 205.82,489.99 206.52,490.22 207.22,490.44 207.93,490.65 208.63,490.85 209.34,491.03 210.04,491.21 210.74,491.37 211.45,491.52 212.15,491.66 212.86,491.80 213.56,491.92 214.26,492.03 214.97,492.14 215.67,492.24 216.38,492.33 217.08,492.41 217.78,492.49 218.49,492.56 219.19,492.62 219.90,492.68 220.60,492.73 221.30,492.78 222.01,492.83 222.71,492.87 223.42,492.90 224.12,492.93 224.82,492.96 225.53,492.99 226.23,493.01 226.94,493.04 227.64,493.06 228.34,493.07 229.05,493.09 229.75,493.10 230.46,493.11 231.16,493.12 231.86,493.13 232.57,493.14 233.27,493.15 233.98,493.16 234.68,493.16 235.38,493.17 236.09,493.17 236.79,493.18 237.50,493.18 238.20,493.18 238.90,493.18 239.61,493.19 240.31,493.19 241.02,493.19 241.72,493.19 242.42,493.19 243.13,493.19 243.83,493.19 244.54,493.20 245.24,493.20 245.94,493.20 246.65,493.20 247.35,493.20 248.06,493.20 248.76,493.20 249.46,493.20 250.17,493.20 250.87,493.20 251.58,493.20 252.28,493.20 252.98,493.20 253.69,493.20 254.39,493.20 255.10,493.20 255.80,493.20 256.50,493.20 257.21,493.20 257.91,493.20 258.62,493.20 259.32,493.20 260.02,493.20 260.73,493.20 261.43,493.20 262.14,493.20 262.84,493.20 263.54,493.20 264.25,493.20 264.95,493.20 265.66,493.20 266.36,493.20 267.06,493.20 267.77,493.20 268.47,493.20 269.18,493.20 269.88,493.20 270.58,493.20 271.29,493.20 271.99,493.20 272.70,493.20 273.40,493.20 274.10,493.20 274.81,493.20 275.51,493.20 276.22,493.20 276.92,493.20 277.62,493.20 278.33,493.20 279.03,493.20 279.74,493.20 280.44,493.20 281.14,493.20 281.85,493.20 282.55,493.20 283.26,493.20 283.96,493.20 284.66,493.20 285.37,493.20 286.07,493.20 286.78,493.20 287.48,493.20 288.18,493.20 288.89,493.20 289.59,493.20 290.30,493.20 291.00,493.20 291.70,493.20 292.41,493.20 293.11,493.20 293.82,493.20 294.52,493.20 295.22,493.20 295.93,493.20 296.63,493.20 297.34,493.20 298.04,493.20 298.74,493.20 299.45,493.20 300.15,493.20 300.86,493.20 301.56,493.20 302.26,493.20 302.97,493.20 303.67,493.20 304.38,493.20 305.08,493.20 305.78,493.20 306.49,493.20 307.19,493.20 307.90,493.20 308.60,493.20" fill="none" stroke="#f9a0c9" stroke-width="1.1" stroke-linejoin="round"/>
<polyline points="27.00,492.96 27.70,492.94 28.41,492.91 29.11,492.88 29.82,492.86 30.52,492.82 31.22,492.79 31.93,492.75 32.63,492.72 33.34,492.68 34.04,492.63 34.74,492.59 35.45,492.54 36.15,492.49 36.86,492.44 37.56,492.39 38.26,492.33 38.97,492.27 39.67,492.21 40.38,492.15 41.08,492.08 41.78,492.02 42.49,491.95 43.19,491.88 43.90,491.81 44.60,491.73 45.30,491.66 46.01,491.58 46.71,491.50 47.42,491.43 48.12,491.35 48.82,491.27 49.53,491.19 50.23,491.11 50.94,491.03 51.64,490.95 52.34,490.87 53.05,490.80 53.75,490.72 54.46,490.64 55.16,490.57 55.86,490.50 56.57,490.42 57.27,490.35 57.98,490.28 58.68,490.22 59.38,490.15 60.09,490.08 60.79,490.02 61.50,489.96 62.20,489.90 62.90,489.84 63.61,489.78 64.31,489.72 65.02,489.66 65.72,489.60 66.42,489.54 67.13,489.48 67.83,489.42 68.54,489.36 69.24,489.30 69.94,489.24 70.65,489.17 71.35,489.10 72.06,489.03 72.76,488.96 73.46,488.88 74.17,488.80 74.87,488.71 75.58,488.62 76.28,488.52 76.98,488.42 77.69,488.31 78.39,488.19 79.10,488.07 79.80,487.94 80.50,487.80 81.21,487.65 81.91,487.50 82.62,487.34 83.32,487.17 84.02,486.99 84.73,486.80 85.43,486.61 86.14,486.40 86.84,486.19 87.54,485.97 88.25,485.74 88.95,485.50 89.66,485.25 90.36,485.00 91.06,484.73 91.77,484.46 92.47,484.18 93.18,483.89 93.88,483.59 94.58,483.29 95.29,482.98 95.99,482.67 96.70,482.35 97.40,482.02 98.10,481.69 98.81,481.36 99.51,481.02 100.22,480.67 100.92,480.33 101.62,479.98 102.33,479.63 103.03,479.27 103.74,478.92 104.44,478.57 105.14,478.22 105.85,477.86 106.55,477.51 107.26,477.16 107.96,476.82 108.66,476.47 109.37,476.13 110.07,475.80 110.78,475.47 111.48,475.14 112.18,474.82 112.89,474.50 113.59,474.19 114.30,473.89 115.00,473.60 115.70,473.31 116.41,473.03 117.11,472.76 117.82,472.49 118.52,472.24 119.22,471.99 119.93,471.75 120.63,471.51 121.34,471.29 122.04,471.07 122.74,470.86 123.45,470.66 124.15,470.46 124.86,470.26 125.56,470.08 126.26,469.89 126.97,469.71 127.67,469.53 128.38,469.36 129.08,469.18 129.78,469.00 130.49,468.82 131.19,468.64 131.90,468.45 132.60,468.25 133.30,468.05 134.01,467.83 134.71,467.60 135.42,467.36 136.12,467.11 136.82,466.84 137.53,466.55 138.23,466.24 138.94,465.90 139.64,465.54 140.34,465.16 141.05,464.75 141.75,464.31 142.46,463.84 143.16,463.34 143.86,462.80 144.57,462.24 145.27,461.63 145.98,461.00 146.68,460.32 147.38,459.61 148.09,458.87 148.79,458.09 149.50,457.27 150.20,456.42 150.90,455.54 151.61,454.63 152.31,453.69 153.02,452.72 153.72,451.73 154.42,450.71 155.13,449.68 155.83,448.63 156.54,447.57 157.24,446.50 157.94,445.42 158.65,444.35 159.35,443.28 160.06,442.22 160.76,441.18 161.46,440.16 162.17,439.15 162.87,438.18 163.58,437.25 164.28,436.35 164.98,435.50 165.69,434.70 166.39,433.96 167.10,433.27 167.80,432.65 168.50,432.10 169.21,431.61 169.91,431.21 170.62,430.88 171.32,430.64 172.02,430.47 172.73,430.40 173.43,430.41 174.14,430.51 174.84,430.71 175.54,430.99 176.25,431.36 176.95,431.82 177.66,432.37 178.36,433.00 179.06,433.72 179.77,434.52 180.47,435.39 181.18,436.34 181.88,437.37 182.58,438.46 183.29,439.61 183.99,440.82 184.70,442.09 185.40,443.41 186.10,444.76 186.81,446.16 187.51,447.59 188.22,449.05 188.92,450.53 189.62,452.02 190.33,453.53 191.03,455.05 191.74,456.57 192.44,458.08 193.14,459.59 193.85,461.08 194.55,462.56 195.26,464.02 195.96,465.45 196.66,466.86 197.37,468.24 198.07,469.58 198.78,470.89 199.48,472.16 200.18,473.39 200.89,474.58 201.59,475.73 202.30,476.83 203.00,477.89 203.70,478.91 204.41,479.88 205.11,480.80 205.82,481.68 206.52,482.52 207.22,483.31 207.93,484.05 208.63,484.76 209.34,485.42 210.04,486.04 210.74,486.63 211.45,487.17 212.15,487.68 212.86,488.16 213.56,488.60 214.26,489.01 214.97,489.39 215.67,489.74 216.38,490.07 217.08,490.37 217.78,490.64 218.49,490.89 219.19,491.12 219.90,491.33 220.60,491.52 221.30,491.70 222.01,491.86 222.71,492.00 223.42,492.13 224.12,492.25 224.82,492.35 225.53,492.45 226.23,492.54 226.94,492.61 227.64,492.68 228.34,492.74 229.05,492.80 229.75,492.85 230.46,492.89 231.16,492.93 231.86,492.96 232.57,492.99 233.27,493.02 233.98,493.04 234.68,493.06 235.38,493.08 236.09,493.10 236.79,493.11 237.50,493.12 238.20,493.13 238.90,493.14 239.61,493.15 240.31,493.16 241.02,493.16 241.72,493.17 242.42,493.17 243.13,493.18 243.83,493.18 244.54,493.18 245.24,493.19 245.94,493.19 246.65,493.19 247.35,493.19 248.06,493.19 248.76,493.19 249.46,493.19 250.17,493.20 250.87,493.20 251.58,493.20 252.28,493.20 252.98,493.20 253.69,493.20 254.39,493.20 255.10,493.20 255.80,493.20 256.50,493.20 257.21,493.20 257.91,493.20 258.62,493.20 259.32,493.20 260.02,493.20 260.73,493.20 261.43,493.20 262.14,493.20 262.84,493.20 263.54,493.20 264.25,493.20 264.95,493.20 265.66,493.20 266.36,493.20 267.06,493.20 267.77,493.20 268.47,493.20 269.18,493.20 269.88,493.20 270.58,493.20 271.29,493.20 271.99,493.20 272.70,493.20 273.40,493.20 274.10,493.20 274.81,493.20 275.51,493.20 276.22,493.20 276.92,493.20 277.62,493.20 278.33,493.20 279.03,493.20 279.74,493.20 280.44,493.20 281.14,493.20 281.85,493.20 282.55,493.20 283.26,493.20 283.96,493.20 284.66,493.20 285.37,493.20 286.07,493.20 286.78,493.20 287.48,493.20 288.18,493.20 288.89,493.20 289.59,493.20 290.30,493.20 291.00,493.20 291.70,493.20 292.41,493.20 293.11,493.20 293.82,493.20 294.52,493.20 295.22,493.20 295.93,493.20 296.63,493.20 297.34,493.20 298.04,493.20 298.74,493.20 299.45,493.20 300.15,493.20 300.86,493.20 301.56,493.20 302.26,493.20 302.97,493.20 303.67,493.20 304.38,493.20 305.08,493.20 305.78,493.20 306.49,493.20 307.19,493.20 307.90,493.20 308.60,493.20" fill="none" stroke="#f672b2" stroke-width="1.2" stroke-linejoin="round"/>
<polyline points="27.00,492.88 27.70,492.85 28.41,492.81 29.11,492.78 29.82,492.74 30.52,492.70 31.22,492.65 31.93,492.60 32.63,492.55 33.34,492.50 34.04,492.44 34.74,492.38 35.45,492.32 36.15,492.25 36.86,492.18 37.56,492.11 38.26,492.04 38.97,491.96 39.67,491.88 40.38,491.79 41.08,491.70 41.78,491.61 42.49,491.52 43.19,491.43 43.90,491.33 44.60,491.23 45.30,491.13 46.01,491.03 46.71,490.93 47.42,490.82 48.12,490.72 48.82,490.61 49.53,490.50 50.23,490.40 50.94,490.29 51.64,490.19 52.34,490.08 53.05,489.98 53.75,489.87 54.46,489.77 55.16,489.67 55.86,489.57 56.57,489.48 57.27,489.38 57.98,489.29 58.68,489.20 59.38,489.11 60.09,489.02 60.79,488.94 61.50,488.85 62.20,488.77 62.90,488.69 63.61,488.61 64.31,488.53 65.02,488.45 65.72,488.37 66.42,488.30 67.13,488.22 67.83,488.14 68.54,488.06 69.24,487.97 69.94,487.89 70.65,487.80 71.35,487.71 72.06,487.61 72.76,487.51 73.46,487.41 74.17,487.30 74.87,487.18 75.58,487.06 76.28,486.92 76.98,486.79 77.69,486.64 78.39,486.48 79.10,486.32 79.80,486.14 80.50,485.96 81.21,485.76 81.91,485.56 82.62,485.34 83.32,485.11 84.02,484.88 84.73,484.62 85.43,484.36 86.14,484.09 86.84,483.80 87.54,483.51 88.25,483.20 88.95,482.88 89.66,482.54 90.36,482.20 91.06,481.84 91.77,481.48 92.47,481.10 93.18,480.72 93.88,480.32 94.58,479.92 95.29,479.50 95.99,479.08 96.70,478.65 97.40,478.21 98.10,477.77 98.81,477.32 99.51,476.86 100.22,476.40 100.92,475.94 101.62,475.47 102.33,475.00 103.03,474.53 103.74,474.06 104.44,473.58 105.14,473.11 105.85,472.64 106.55,472.17 107.26,471.70 107.96,471.23 108.66,470.77 109.37,470.32 110.07,469.87 110.78,469.42 111.48,468.98 112.18,468.55 112.89,468.13 113.59,467.72 114.30,467.31 115.00,466.92 115.70,466.53 116.41,466.16 117.11,465.79 117.82,465.44 118.52,465.09 119.22,464.76 119.93,464.44 120.63,464.12 121.34,463.82 122.04,463.53 122.74,463.25 123.45,462.97 124.15,462.71 124.86,462.45 125.56,462.20 126.26,461.95 126.97,461.71 127.67,461.47 128.38,461.23 129.08,460.99 129.78,460.75 130.49,460.51 131.19,460.27 131.90,460.01 132.60,459.75 133.30,459.47 134.01,459.19 134.71,458.88 135.42,458.56 136.12,458.22 136.82,457.85 137.53,457.47 138.23,457.05 138.94,456.60 139.64,456.12 140.34,455.61 141.05,455.06 141.75,454.47 142.46,453.84 143.16,453.16 143.86,452.45 144.57,451.68 145.27,450.88 145.98,450.02 146.68,449.12 147.38,448.17 148.09,447.17 148.79,446.12 149.50,445.03 150.20,443.89 150.90,442.71 151.61,441.49 152.31,440.23 153.02,438.93 153.72,437.60 154.42,436.24 155.13,434.85 155.83,433.44 156.54,432.02 157.24,430.58 157.94,429.14 158.65,427.71 159.35,426.27 160.06,424.85 160.76,423.45 161.46,422.08 162.17,420.74 162.87,419.44 163.58,418.18 164.28,416.98 164.98,415.84 165.69,414.77 166.39,413.77 167.10,412.85 167.80,412.02 168.50,411.27 169.21,410.63 169.91,410.08 170.62,409.65 171.32,409.32 172.02,409.10 172.73,409.00 173.43,409.02 174.14,409.15 174.84,409.41 175.54,409.79 176.25,410.29 176.95,410.90 177.66,411.64 178.36,412.49 179.06,413.45 179.77,414.52 180.47,415.69 181.18,416.97 181.88,418.34 182.58,419.80 183.29,421.35 183.99,422.98 184.70,424.67 185.40,426.44 186.10,428.26 186.81,430.13 187.51,432.05 188.22,434.00 188.92,435.99 189.62,437.99 190.33,440.02 191.03,442.05 191.74,444.08 192.44,446.11 193.14,448.13 193.85,450.14 194.55,452.12 195.26,454.08 195.96,456.00 196.66,457.89 197.37,459.73 198.07,461.53 198.78,463.29 199.48,464.99 200.18,466.64 200.89,468.24 201.59,469.78 202.30,471.26 203.00,472.68 203.70,474.04 204.41,475.34 205.11,476.58 205.82,477.76 206.52,478.87 207.22,479.93 207.93,480.94 208.63,481.88 209.34,482.77 210.04,483.61 210.74,484.39 211.45,485.12 212.15,485.81 212.86,486.44 213.56,487.04 214.26,487.59 214.97,488.09 215.67,488.57 216.38,489.00 217.08,489.40 217.78,489.77 218.49,490.10 219.19,490.41 219.90,490.69 220.60,490.95 221.30,491.19 222.01,491.40 222.71,491.59 223.42,491.77 224.12,491.92 224.82,492.07 225.53,492.19 226.23,492.31 226.94,492.41 227.64,492.50 228.34,492.59 229.05,492.66 229.75,492.73 230.46,492.78 231.16,492.84 231.86,492.88 232.57,492.92 233.27,492.96 233.98,492.99 234.68,493.02 235.38,493.04 236.09,493.06 236.79,493.08 237.50,493.10 238.20,493.11 238.90,493.12 239.61,493.13 240.31,493.14 241.02,493.15 241.72,493.16 242.42,493.16 243.13,493.17 243.83,493.17 244.54,493.18 245.24,493.18 245.94,493.18 246.65,493.19 247.35,493.19 248.06,493.19 248.76,493.19 249.46,493.19 250.17,493.19 250.87,493.20 251.58,493.20 252.28,493.20 252.98,493.20 253.69,493.20 254.39,493.20 255.10,493.20 255.80,493.20 256.50,493.20 257.21,493.20 257.91,493.20 258.62,493.20 259.32,493.20 260.02,493.20 260.73,493.20 261.43,493.20 262.14,493.20 262.84,493.20 263.54,493.20 264.25,493.20 264.95,493.20 265.66,493.20 266.36,493.20 267.06,493.20 267.77,493.20 268.47,493.20 269.18,493.20 269.88,493.20 270.58,493.20 271.29,493.20 271.99,493.20 272.70,493.20 273.40,493.20 274.10,493.20 274.81,493.20 275.51,493.20 276.22,493.20 276.92,493.20 277.62,493.20 278.33,493.20 279.03,493.20 279.74,493.20 280.44,493.20 281.14,493.20 281.85,493.20 282.55,493.20 283.26,493.20 283.96,493.20 284.66,493.20 285.37,493.20 286.07,493.20 286.78,493.20 287.48,493.20 288.18,493.20 288.89,493.20 289.59,493.20 290.30,493.20 291.00,493.20 291.70,493.20 292.41,493.20 293.11,493.20 293.82,493.20 294.52,493.20 295.22,493.20 295.93,493.20 296.63,493.20 297.34,493.20 298.04,493.20 298.74,493.20 299.45,493.20 300.15,493.20 300.86,493.20 301.56,493.20 302.26,493.20 302.97,493.20 303.67,493.20 304.38,493.20 305.08,493.20 305.78,493.20 306.49,493.20 307.19,493.20 307.90,493.20 308.60,493.20" fill="none" stroke="#f33c9c" stroke-width="1.3" stroke-linejoin="round"/>
<polyline points="27.00,492.80 27.70,492.76 28.41,492.72 29.11,492.67 29.82,492.62 30.52,492.57 31.22,492.51 31.93,492.45 32.63,492.39 33.34,492.32 34.04,492.25 34.74,492.17 35.45,492.10 36.15,492.01 36.86,491.93 37.56,491.83 38.26,491.74 38.97,491.64 39.67,491.54 40.38,491.43 41.08,491.32 41.78,491.21 42.49,491.10 43.19,490.98 43.90,490.86 44.60,490.73 45.30,490.61 46.01,490.48 46.71,490.35 47.42,490.22 48.12,490.09 48.82,489.95 49.53,489.82 50.23,489.69 50.94,489.55 51.64,489.42 52.34,489.29 53.05,489.16 53.75,489.03 54.46,488.90 55.16,488.78 55.86,488.65 56.57,488.53 57.27,488.41 57.98,488.30 58.68,488.18 59.38,488.07 60.09,487.96 60.79,487.85 61.50,487.75 62.20,487.64 62.90,487.54 63.61,487.44 64.31,487.34 65.02,487.24 65.72,487.15 66.42,487.05 67.13,486.95 67.83,486.85 68.54,486.75 69.24,486.64 69.94,486.54 70.65,486.43 71.35,486.31 72.06,486.19 72.76,486.07 73.46,485.93 74.17,485.80 74.87,485.65 75.58,485.49 76.28,485.33 76.98,485.16 77.69,484.97 78.39,484.78 79.10,484.57 79.80,484.35 80.50,484.12 81.21,483.87 81.91,483.62 82.62,483.35 83.32,483.06 84.02,482.76 84.73,482.45 85.43,482.12 86.14,481.77 86.84,481.41 87.54,481.04 88.25,480.65 88.95,480.25 89.66,479.83 90.36,479.40 91.06,478.96 91.77,478.50 92.47,478.03 93.18,477.54 93.88,477.05 94.58,476.54 95.29,476.02 95.99,475.49 96.70,474.95 97.40,474.40 98.10,473.85 98.81,473.28 99.51,472.71 100.22,472.13 100.92,471.55 101.62,470.97 102.33,470.38 103.03,469.78 103.74,469.19 104.44,468.60 105.14,468.00 105.85,467.41 106.55,466.82 107.26,466.23 107.96,465.65 108.66,465.07 109.37,464.50 110.07,463.94 110.78,463.38 111.48,462.83 112.18,462.29 112.89,461.76 113.59,461.24 114.30,460.73 115.00,460.24 115.70,459.76 116.41,459.28 117.11,458.83 117.82,458.38 118.52,457.95 119.22,457.53 119.93,457.13 120.63,456.74 121.34,456.36 122.04,455.99 122.74,455.63 123.45,455.29 124.15,454.96 124.86,454.63 125.56,454.32 126.26,454.01 126.97,453.70 127.67,453.40 128.38,453.11 129.08,452.81 129.78,452.51 130.49,452.21 131.19,451.90 131.90,451.58 132.60,451.25 133.30,450.90 134.01,450.54 134.71,450.16 135.42,449.76 136.12,449.33 136.82,448.87 137.53,448.38 138.23,447.86 138.94,447.30 139.64,446.70 140.34,446.05 141.05,445.36 141.75,444.62 142.46,443.83 143.16,442.99 143.86,442.09 144.57,441.13 145.27,440.12 145.98,439.05 146.68,437.91 147.38,436.72 148.09,435.47 148.79,434.16 149.50,432.79 150.20,431.36 150.90,429.88 151.61,428.35 152.31,426.76 153.02,425.13 153.72,423.46 154.42,421.76 155.13,420.02 155.83,418.25 156.54,416.47 157.24,414.67 157.94,412.86 158.65,411.06 159.35,409.26 160.06,407.48 160.76,405.73 161.46,404.00 162.17,402.32 162.87,400.69 163.58,399.12 164.28,397.61 164.98,396.18 165.69,394.84 166.39,393.58 167.10,392.43 167.80,391.38 168.50,390.45 169.21,389.64 169.91,388.96 170.62,388.41 171.32,388.00 172.02,387.73 172.73,387.60 173.43,387.62 174.14,387.79 174.84,388.12 175.54,388.59 176.25,389.21 176.95,389.99 177.66,390.91 178.36,391.97 179.06,393.18 179.77,394.52 180.47,396.00 181.18,397.60 181.88,399.32 182.58,401.15 183.29,403.09 183.99,405.13 184.70,407.26 185.40,409.47 186.10,411.75 186.81,414.10 187.51,416.50 188.22,418.96 188.92,421.44 189.62,423.96 190.33,426.50 191.03,429.05 191.74,431.60 192.44,434.15 193.14,436.68 193.85,439.19 194.55,441.68 195.26,444.13 195.96,446.54 196.66,448.91 197.37,451.23 198.07,453.49 198.78,455.69 199.48,457.82 200.18,459.89 200.89,461.90 201.59,463.82 202.30,465.68 203.00,467.46 203.70,469.17 204.41,470.80 205.11,472.35 205.82,473.83 206.52,475.23 207.22,476.56 207.93,477.82 208.63,479.00 209.34,480.12 210.04,481.17 210.74,482.15 211.45,483.07 212.15,483.93 212.86,484.73 213.56,485.47 214.26,486.16 214.97,486.80 215.67,487.39 216.38,487.93 217.08,488.43 217.78,488.89 218.49,489.32 219.19,489.70 219.90,490.06 220.60,490.38 221.30,490.67 222.01,490.94 222.71,491.18 223.42,491.40 224.12,491.60 224.82,491.78 225.53,491.94 226.23,492.08 226.94,492.21 227.64,492.33 228.34,492.43 229.05,492.52 229.75,492.61 230.46,492.68 231.16,492.74 231.86,492.80 232.57,492.85 233.27,492.90 233.98,492.94 234.68,492.97 235.38,493.00 236.09,493.03 236.79,493.05 237.50,493.07 238.20,493.09 238.90,493.10 239.61,493.12 240.31,493.13 241.02,493.14 241.72,493.15 242.42,493.16 243.13,493.16 243.83,493.17 244.54,493.17 245.24,493.18 245.94,493.18 246.65,493.18 247.35,493.19 248.06,493.19 248.76,493.19 249.46,493.19 250.17,493.19 250.87,493.19 251.58,493.19 252.28,493.20 252.98,493.20 253.69,493.20 254.39,493.20 255.10,493.20 255.80,493.20 256.50,493.20 257.21,493.20 257.91,493.20 258.62,493.20 259.32,493.20 260.02,493.20 260.73,493.20 261.43,493.20 262.14,493.20 262.84,493.20 263.54,493.20 264.25,493.20 264.95,493.20 265.66,493.20 266.36,493.20 267.06,493.20 267.77,493.20 268.47,493.20 269.18,493.20 269.88,493.20 270.58,493.20 271.29,493.20 271.99,493.20 272.70,493.20 273.40,493.20 274.10,493.20 274.81,493.20 275.51,493.20 276.22,493.20 276.92,493.20 277.62,493.20 278.33,493.20 279.03,493.20 279.74,493.20 280.44,493.20 281.14,493.20 281.85,493.20 282.55,493.20 283.26,493.20 283.96,493.20 284.66,493.20 285.37,493.20 286.07,493.20 286.78,493.20 287.48,493.20 288.18,493.20 288.89,493.20 289.59,493.20 290.30,493.20 291.00,493.20 291.70,493.20 292.41,493.20 293.11,493.20 293.82,493.20 294.52,493.20 295.22,493.20 295.93,493.20 296.63,493.20 297.34,493.20 298.04,493.20 298.74,493.20 299.45,493.20 300.15,493.20 300.86,493.20 301.56,493.20 302.26,493.20 302.97,493.20 303.67,493.20 304.38,493.20 305.08,493.20 305.78,493.20 306.49,493.20 307.19,493.20 307.90,493.20 308.60,493.20" fill="none" stroke="#ee1288" stroke-width="1.5" stroke-linejoin="round"/>
<rect x="27.00" y="366.60" width="281.60" height="139.60" fill="none" stroke="#383838" stroke-width="1.2"/>
<line x1="27.00" y1="506.20" x2="27.00" y2="503.60" stroke="#000" stroke-width="1" />
<line x1="97.40" y1="506.20" x2="97.40" y2="503.60" stroke="#000" stroke-width="1" />
<line x1="167.80" y1="506.20" x2="167.80" y2="503.60" stroke="#000" stroke-width="1" />
<line x1="238.20" y1="506.20" x2="238.20" y2="503.60" stroke="#000" stroke-width="1" />
<line x1="308.60" y1="506.20" x2="308.60" y2="503.60" stroke="#000" stroke-width="1" />
<line x1="62.20" y1="506.20" x2="62.20" y2="504.70" stroke="#000" stroke-width="1" />
<line x1="132.60" y1="506.20" x2="132.60" y2="504.70" stroke="#000" stroke-width="1" />
<line x1="203.00" y1="506.20" x2="203.00" y2="504.70" stroke="#000" stroke-width="1" />
<line x1="273.40" y1="506.20" x2="273.40" y2="504.70" stroke="#000" stroke-width="1" />
<text x="27.00" y="516.40" font-size="8.4" text-anchor="middle" fill="#111" font-weight="normal" font-style="normal" >450</text>
<text x="97.40" y="516.40" font-size="8.4" text-anchor="middle" fill="#111" font-weight="normal" font-style="normal" >500</text>
<text x="167.80" y="516.40" font-size="8.4" text-anchor="middle" fill="#111" font-weight="normal" font-style="normal" >550</text>
<text x="238.20" y="516.40" font-size="8.4" text-anchor="middle" fill="#111" font-weight="normal" font-style="normal" >600</text>
<text x="308.60" y="516.40" font-size="8.4" text-anchor="middle" fill="#111" font-weight="normal" font-style="normal" >650</text>
<text x="168.00" y="531.80" font-size="10.5" text-anchor="middle" fill="#111" font-weight="normal" font-style="normal" >Wavelength (nm)</text>
<text transform="translate(14.2,443) rotate(-90)" font-size="10.4" text-anchor="middle" fill="#111">Intensity (arb. units)</text>
<line x1="43.00" y1="373.60" x2="60.00" y2="373.60" stroke="#ee1288" stroke-width="1.7" />
<text x="62.00" y="376.20" font-size="7.3" text-anchor="start" fill="#222" font-weight="normal" font-style="normal" >0 mins</text>
<line x1="43.00" y1="382.88" x2="60.00" y2="382.88" stroke="#f33c9c" stroke-width="1.5" />
<text x="62.00" y="385.48" font-size="7.3" text-anchor="start" fill="#222" font-weight="normal" font-style="normal" >5 mins</text>
<line x1="43.00" y1="392.16" x2="60.00" y2="392.16" stroke="#f672b2" stroke-width="1.4" />
<text x="62.00" y="394.76" font-size="7.3" text-anchor="start" fill="#222" font-weight="normal" font-style="normal" >15 mins</text>
<line x1="43.00" y1="401.44" x2="60.00" y2="401.44" stroke="#f9a0c9" stroke-width="1.3" />
<text x="62.00" y="404.04" font-size="7.3" text-anchor="start" fill="#222" font-weight="normal" font-style="normal" >35 mins</text>
<line x1="43.00" y1="410.72" x2="60.00" y2="410.72" stroke="#fbc4dd" stroke-width="1.2" />
<text x="62.00" y="413.32" font-size="7.3" text-anchor="start" fill="#222" font-weight="normal" font-style="normal" >55 mins</text>
<line x1="43.00" y1="420.00" x2="60.00" y2="420.00" stroke="#fcd8e8" stroke-width="1.2" />
<text x="62.00" y="422.60" font-size="7.3" text-anchor="start" fill="#222" font-weight="normal" font-style="normal" >75 mins</text>
<line x1="37.40" y1="370.00" x2="37.40" y2="424.00" stroke="#333" stroke-width="0.8" />
<path d="M35.8,423 L39,423 L37.4,427.5 Z" fill="#333"/>
<text x="108.60" y="444.20" font-size="11.5" text-anchor="middle" fill="#111" font-weight="normal" font-style="normal" >0 mins</text>
<text x="227.60" y="446.20" font-size="11.5" text-anchor="middle" fill="#111" font-weight="normal" font-style="normal" >75 mins</text>
<text x="267.00" y="480.60" font-size="9.9" text-anchor="middle" fill="#ee2424" font-weight="normal" font-style="italic" >Rhodamine B</text>
<defs>
<linearGradient id="vp" x1="0" x2="1"><stop offset="0" stop-color="#f27ad6"/><stop offset="0.25" stop-color="#f040c8"/><stop offset="0.75" stop-color="#ee3cc6"/><stop offset="1" stop-color="#f48ad8"/></linearGradient>
<linearGradient id="vc" x1="0" x2="1"><stop offset="0" stop-color="#2a5ad0"/><stop offset="0.5" stop-color="#1c4cc4"/><stop offset="1" stop-color="#2a5ad0"/></linearGradient>
<linearGradient id="vg" x1="0" x2="1"><stop offset="0" stop-color="#d8dcdc"/><stop offset="0.2" stop-color="#eceeee"/><stop offset="0.8" stop-color="#e4e6e6"/><stop offset="1" stop-color="#cfd3d3"/></linearGradient>
</defs>
<rect x="101.6" y="374" width="20" height="54.5" fill="#f7eee6"/>
<rect x="104" y="386" width="15.4" height="36" fill="#efe4ec"/>
<path d="M104.6,395 Q112,392.5 119,393.4 V421.4 H104.6 Z" fill="url(#vp)"/>
<path d="M104.6,421.4 H119 L118,427.5 H103.5 Z" fill="#f5b0de"/>
<rect x="102.8" y="375.8" width="18.3" height="10.8" rx="1.2" fill="url(#vc)"/>
<rect x="215.4" y="372.8" width="20.4" height="54" fill="#f8f2ea"/>
<rect x="217" y="384.6" width="16.8" height="40" fill="url(#vg)"/>
<rect x="216.6" y="374.6" width="19.2" height="10.2" rx="1.2" fill="url(#vc)"/>

<text x="346.50" y="359.80" font-size="12.5" text-anchor="start" fill="#000" font-weight="bold" font-style="normal" >g</text>
<path d="M375.8,507.9 V402.47 H401.79999999999995 V507.9" fill="none" stroke="#808080" stroke-width="2"/>
<circle cx="378.20" cy="399.35" r="2.6" fill="none" stroke="#808080" stroke-width="1.45"/>
<circle cx="383.48" cy="401.53" r="2.6" fill="none" stroke="#808080" stroke-width="1.45"/>
<circle cx="388.75" cy="401.53" r="2.6" fill="none" stroke="#808080" stroke-width="1.45"/>
<circle cx="394.03" cy="402.46" r="2.6" fill="none" stroke="#808080" stroke-width="1.45"/>
<circle cx="399.30" cy="403.39" r="2.6" fill="none" stroke="#808080" stroke-width="1.45"/>
<path d="M417.59999999999997,507.9 V488.62 H444.29999999999995 V507.9" fill="none" stroke="#ff6414" stroke-width="2"/>
<circle cx="420.00" cy="488.92" r="2.6" fill="none" stroke="#ff6414" stroke-width="1.45"/>
<circle cx="425.45" cy="488.92" r="2.6" fill="none" stroke="#ff6414" stroke-width="1.45"/>
<circle cx="430.90" cy="488.92" r="2.6" fill="none" stroke="#ff6414" stroke-width="1.45"/>
<circle cx="436.35" cy="488.92" r="2.6" fill="none" stroke="#ff6414" stroke-width="1.45"/>
<circle cx="441.80" cy="488.92" r="2.6" fill="none" stroke="#ff6414" stroke-width="1.45"/>
<path d="M459.8,507.9 V488.62 H485.9 V507.9" fill="none" stroke="#3a93d0" stroke-width="2"/>
<circle cx="462.20" cy="488.61" r="2.6" fill="none" stroke="#3a93d0" stroke-width="1.45"/>
<circle cx="467.50" cy="488.61" r="2.6" fill="none" stroke="#3a93d0" stroke-width="1.45"/>
<circle cx="472.80" cy="488.61" r="2.6" fill="none" stroke="#3a93d0" stroke-width="1.45"/>
<circle cx="478.10" cy="488.61" r="2.6" fill="none" stroke="#3a93d0" stroke-width="1.45"/>
<circle cx="483.40" cy="489.54" r="2.6" fill="none" stroke="#3a93d0" stroke-width="1.45"/>
<path d="M529.6,507.9 V425.48 H555.9 V507.9" fill="none" stroke="#808080" stroke-width="2"/>
<circle cx="532.00" cy="424.23" r="2.6" fill="none" stroke="#808080" stroke-width="1.45"/>
<circle cx="537.35" cy="424.85" r="2.6" fill="none" stroke="#808080" stroke-width="1.45"/>
<circle cx="542.70" cy="424.85" r="2.6" fill="none" stroke="#808080" stroke-width="1.45"/>
<circle cx="548.05" cy="424.85" r="2.6" fill="none" stroke="#808080" stroke-width="1.45"/>
<circle cx="553.40" cy="425.78" r="2.6" fill="none" stroke="#808080" stroke-width="1.45"/>
<path d="M571.6,507.9 V477.42 H597.5 V507.9" fill="none" stroke="#ff6414" stroke-width="2"/>
<circle cx="574.00" cy="477.10" r="2.6" fill="none" stroke="#ff6414" stroke-width="1.45"/>
<circle cx="579.25" cy="477.72" r="2.6" fill="none" stroke="#ff6414" stroke-width="1.45"/>
<circle cx="584.50" cy="477.72" r="2.6" fill="none" stroke="#ff6414" stroke-width="1.45"/>
<circle cx="589.75" cy="478.03" r="2.6" fill="none" stroke="#ff6414" stroke-width="1.45"/>
<circle cx="595.00" cy="478.34" r="2.6" fill="none" stroke="#ff6414" stroke-width="1.45"/>
<path d="M613.4000000000001,507.9 V488.62 H639.5 V507.9" fill="none" stroke="#3a93d0" stroke-width="2"/>
<circle cx="615.80" cy="488.61" r="2.6" fill="none" stroke="#3a93d0" stroke-width="1.45"/>
<circle cx="621.10" cy="488.61" r="2.6" fill="none" stroke="#3a93d0" stroke-width="1.45"/>
<circle cx="626.40" cy="488.61" r="2.6" fill="none" stroke="#3a93d0" stroke-width="1.45"/>
<circle cx="631.70" cy="488.61" r="2.6" fill="none" stroke="#3a93d0" stroke-width="1.45"/>
<circle cx="637.00" cy="489.54" r="2.6" fill="none" stroke="#3a93d0" stroke-width="1.45"/>
<path d="M360.6,367.4 H654.4 V507.9" fill="none" stroke="#888" stroke-width="1.2"/>
<path d="M360.6,367.4 V507.9 H654.4" fill="none" stroke="#555" stroke-width="1.2"/>
<line x1="360.60" y1="507.90" x2="366.80" y2="507.90" stroke="#555" stroke-width="1.1" />
<line x1="360.60" y1="476.80" x2="366.80" y2="476.80" stroke="#555" stroke-width="1.1" />
<line x1="360.60" y1="445.70" x2="366.80" y2="445.70" stroke="#555" stroke-width="1.1" />
<line x1="360.60" y1="414.60" x2="366.80" y2="414.60" stroke="#555" stroke-width="1.1" />
<line x1="360.60" y1="383.50" x2="366.80" y2="383.50" stroke="#555" stroke-width="1.1" />
<text x="358.90" y="511.00" font-size="9.9" text-anchor="end" fill="#222" font-weight="normal" font-style="normal" >0.0</text>
<text x="358.90" y="479.90" font-size="9.9" text-anchor="end" fill="#222" font-weight="normal" font-style="normal" >0.1</text>
<text x="358.90" y="448.80" font-size="9.9" text-anchor="end" fill="#222" font-weight="normal" font-style="normal" >0.2</text>
<text x="358.90" y="417.70" font-size="9.9" text-anchor="end" fill="#222" font-weight="normal" font-style="normal" >0.3</text>
<text x="358.90" y="386.60" font-size="9.9" text-anchor="end" fill="#222" font-weight="normal" font-style="normal" >0.4</text>
<line x1="430.40" y1="507.90" x2="430.40" y2="513.00" stroke="#555" stroke-width="1" />
<line x1="584.40" y1="507.90" x2="584.40" y2="513.00" stroke="#555" stroke-width="1" />
<text x="430.80" y="524.00" font-size="10.2" text-anchor="middle" fill="#222" font-weight="normal" font-style="italic" >E. coli</text>
<text x="584.00" y="524.00" font-size="10" text-anchor="middle" fill="#222" font-weight="normal" font-style="italic" >S. aureus</text>
<text transform="translate(342,449.2) rotate(-90)" font-size="9.6" fill="#222">OD<tspan font-size="7.2" dy="2.5">600</tspan></text>
<circle cx="378.60" cy="375.60" r="2.85" fill="none" stroke="#808080" stroke-width="1.35"/>
<text x="395.00" y="378.80" font-size="9.8" text-anchor="start" fill="#222" font-weight="normal" font-style="normal" >0 h</text>
<circle cx="429.20" cy="375.20" r="2.85" fill="none" stroke="#ff6414" stroke-width="1.35"/>
<text x="445.60" y="378.80" font-size="9.8" text-anchor="start" fill="#222" font-weight="normal" font-style="normal" >0.5 h</text>
<circle cx="488.00" cy="375.20" r="2.85" fill="none" stroke="#3a93d0" stroke-width="1.35"/>
<text x="505.00" y="378.80" font-size="9.8" text-anchor="start" fill="#222" font-weight="normal" font-style="normal" >1 h</text>
<text x="429.50" y="418.80" font-size="12.5" text-anchor="middle" fill="#888" font-weight="normal" font-style="normal" >0 h</text>
<text x="470.50" y="418.80" font-size="12.5" text-anchor="middle" fill="#ff6414" font-weight="normal" font-style="normal" >0.5 h</text>
<text x="586.30" y="418.80" font-size="12.5" text-anchor="middle" fill="#888" font-weight="normal" font-style="normal" >0 h</text>
<text x="626.70" y="418.80" font-size="12.5" text-anchor="middle" fill="#ff6414" font-weight="normal" font-style="normal" >0.5 h</text>
<rect x="407.9" y="423.3" width="40.2" height="40.5" fill="#3a3a3c"/>
<circle cx="428.00" cy="443.55" r="19.10" fill="#86888a" stroke="#dcdcd8" stroke-width="1.6"/>
<circle cx="425.15" cy="439.17" r="0.45" fill="#e8e8e4"/>
<circle cx="433.06" cy="432.72" r="0.45" fill="#e8e8e4"/>
<circle cx="418.64" cy="454.02" r="0.45" fill="#e8e8e4"/>
<circle cx="423.17" cy="433.06" r="0.45" fill="#e8e8e4"/>
<circle cx="439.15" cy="448.84" r="0.45" fill="#e8e8e4"/>
<circle cx="432.00" cy="428.58" r="0.45" fill="#e8e8e4"/>
<circle cx="437.96" cy="437.61" r="0.45" fill="#e8e8e4"/>
<circle cx="420.70" cy="445.41" r="0.45" fill="#e8e8e4"/>
<circle cx="430.24" cy="453.68" r="0.45" fill="#e8e8e4"/>
<circle cx="430.33" cy="452.02" r="0.45" fill="#e8e8e4"/>
<circle cx="428.26" cy="431.31" r="0.45" fill="#e8e8e4"/>
<circle cx="434.10" cy="431.72" r="0.45" fill="#e8e8e4"/>
<circle cx="428.94" cy="449.62" r="0.45" fill="#e8e8e4"/>
<circle cx="418.23" cy="454.64" r="0.45" fill="#e8e8e4"/>
<circle cx="437.87" cy="451.14" r="0.45" fill="#e8e8e4"/>
<circle cx="434.34" cy="440.58" r="0.45" fill="#e8e8e4"/>
<circle cx="427.53" cy="454.31" r="0.45" fill="#e8e8e4"/>
<circle cx="436.62" cy="456.84" r="0.45" fill="#e8e8e4"/>
<circle cx="428.71" cy="437.05" r="0.45" fill="#e8e8e4"/>
<circle cx="441.40" cy="449.19" r="0.45" fill="#e8e8e4"/>
<circle cx="426.07" cy="434.29" r="0.45" fill="#e8e8e4"/>
<circle cx="432.06" cy="444.34" r="0.45" fill="#e8e8e4"/>
<circle cx="417.43" cy="455.37" r="0.45" fill="#e8e8e4"/>
<circle cx="421.43" cy="442.26" r="0.45" fill="#e8e8e4"/>
<circle cx="429.08" cy="456.30" r="0.45" fill="#e8e8e4"/>
<circle cx="424.55" cy="452.55" r="0.45" fill="#e8e8e4"/>
<circle cx="440.26" cy="441.63" r="0.45" fill="#e8e8e4"/>
<circle cx="424.19" cy="447.29" r="0.45" fill="#e8e8e4"/>
<circle cx="420.76" cy="445.44" r="0.45" fill="#e8e8e4"/>
<circle cx="436.56" cy="438.59" r="0.45" fill="#e8e8e4"/>
<circle cx="422.45" cy="430.33" r="0.45" fill="#e8e8e4"/>
<circle cx="437.30" cy="452.26" r="0.45" fill="#e8e8e4"/>
<circle cx="432.39" cy="443.15" r="0.45" fill="#e8e8e4"/>
<circle cx="434.38" cy="449.71" r="0.45" fill="#e8e8e4"/>
<circle cx="427.84" cy="432.77" r="0.45" fill="#e8e8e4"/>
<circle cx="418.54" cy="437.37" r="0.45" fill="#e8e8e4"/>
<circle cx="432.89" cy="442.74" r="0.45" fill="#e8e8e4"/>
<circle cx="424.55" cy="440.87" r="0.45" fill="#e8e8e4"/>
<circle cx="435.66" cy="448.42" r="0.45" fill="#e8e8e4"/>
<circle cx="430.36" cy="436.19" r="0.45" fill="#e8e8e4"/>
<circle cx="421.09" cy="436.34" r="0.45" fill="#e8e8e4"/>
<circle cx="442.65" cy="443.78" r="0.45" fill="#e8e8e4"/>
<circle cx="422.99" cy="445.05" r="0.45" fill="#e8e8e4"/>
<circle cx="428.50" cy="451.74" r="0.45" fill="#e8e8e4"/>
<circle cx="414.92" cy="452.31" r="0.45" fill="#e8e8e4"/>
<circle cx="421.95" cy="440.75" r="0.45" fill="#e8e8e4"/>
<circle cx="429.40" cy="455.54" r="0.45" fill="#e8e8e4"/>
<circle cx="428.35" cy="459.46" r="0.45" fill="#e8e8e4"/>
<circle cx="414.65" cy="442.38" r="0.45" fill="#e8e8e4"/>
<circle cx="434.77" cy="455.50" r="0.45" fill="#e8e8e4"/>
<circle cx="429.38" cy="432.99" r="0.45" fill="#e8e8e4"/>
<circle cx="439.50" cy="438.63" r="0.45" fill="#e8e8e4"/>
<circle cx="424.77" cy="443.04" r="0.45" fill="#e8e8e4"/>
<circle cx="441.06" cy="450.40" r="0.45" fill="#e8e8e4"/>
<circle cx="431.64" cy="436.40" r="0.45" fill="#e8e8e4"/>
<circle cx="416.96" cy="453.41" r="0.45" fill="#e8e8e4"/>
<circle cx="421.31" cy="454.17" r="0.45" fill="#e8e8e4"/>
<circle cx="428.70" cy="432.68" r="0.45" fill="#e8e8e4"/>
<circle cx="418.58" cy="442.17" r="0.45" fill="#e8e8e4"/>
<circle cx="413.39" cy="447.68" r="0.45" fill="#e8e8e4"/>
<circle cx="419.90" cy="457.49" r="0.45" fill="#e8e8e4"/>
<circle cx="435.47" cy="441.72" r="0.45" fill="#e8e8e4"/>
<circle cx="427.71" cy="453.36" r="0.45" fill="#e8e8e4"/>
<circle cx="417.02" cy="446.37" r="0.45" fill="#e8e8e4"/>
<circle cx="427.13" cy="451.98" r="0.45" fill="#e8e8e4"/>
<circle cx="427.39" cy="446.03" r="0.45" fill="#e8e8e4"/>
<circle cx="431.59" cy="456.67" r="0.45" fill="#e8e8e4"/>
<circle cx="419.40" cy="444.73" r="0.45" fill="#e8e8e4"/>
<circle cx="424.19" cy="430.52" r="0.45" fill="#e8e8e4"/>
<circle cx="433.90" cy="453.64" r="0.45" fill="#e8e8e4"/>
<circle cx="427.40" cy="428.40" r="0.45" fill="#e8e8e4"/>
<circle cx="437.48" cy="437.91" r="0.45" fill="#e8e8e4"/>
<circle cx="416.50" cy="451.82" r="0.45" fill="#e8e8e4"/>
<circle cx="436.66" cy="447.14" r="0.45" fill="#e8e8e4"/>
<circle cx="414.14" cy="446.12" r="0.45" fill="#e8e8e4"/>
<circle cx="429.72" cy="429.82" r="0.45" fill="#e8e8e4"/>
<circle cx="420.61" cy="444.93" r="0.45" fill="#e8e8e4"/>
<circle cx="434.81" cy="429.43" r="0.45" fill="#e8e8e4"/>
<circle cx="423.01" cy="434.55" r="0.45" fill="#e8e8e4"/>
<circle cx="435.30" cy="438.78" r="0.45" fill="#e8e8e4"/>
<circle cx="430.66" cy="435.58" r="0.45" fill="#e8e8e4"/>
<circle cx="429.89" cy="442.00" r="0.45" fill="#e8e8e4"/>
<circle cx="423.92" cy="452.99" r="0.45" fill="#e8e8e4"/>
<circle cx="435.79" cy="456.62" r="0.45" fill="#e8e8e4"/>
<circle cx="440.10" cy="447.09" r="0.45" fill="#e8e8e4"/>
<circle cx="437.26" cy="452.31" r="0.45" fill="#e8e8e4"/>
<circle cx="434.82" cy="431.21" r="0.45" fill="#e8e8e4"/>
<circle cx="413.77" cy="446.09" r="0.45" fill="#e8e8e4"/>
<circle cx="420.15" cy="433.70" r="0.45" fill="#e8e8e4"/>
<circle cx="426.05" cy="452.20" r="0.45" fill="#e8e8e4"/>
<circle cx="439.15" cy="453.73" r="0.45" fill="#e8e8e4"/>
<circle cx="440.24" cy="446.16" r="0.45" fill="#e8e8e4"/>
<circle cx="420.14" cy="447.97" r="0.45" fill="#e8e8e4"/>
<circle cx="418.30" cy="452.51" r="0.45" fill="#e8e8e4"/>
<circle cx="416.32" cy="436.98" r="0.45" fill="#e8e8e4"/>
<circle cx="436.88" cy="455.06" r="0.45" fill="#e8e8e4"/>
<circle cx="431.75" cy="443.69" r="0.45" fill="#e8e8e4"/>
<circle cx="430.42" cy="431.58" r="0.45" fill="#e8e8e4"/>
<circle cx="425.48" cy="436.54" r="0.45" fill="#e8e8e4"/>
<circle cx="429.27" cy="444.64" r="0.45" fill="#e8e8e4"/>
<circle cx="417.53" cy="441.47" r="0.45" fill="#e8e8e4"/>
<circle cx="426.90" cy="451.11" r="0.45" fill="#e8e8e4"/>
<circle cx="417.06" cy="444.83" r="0.45" fill="#e8e8e4"/>
<circle cx="437.70" cy="443.90" r="0.45" fill="#e8e8e4"/>
<circle cx="437.53" cy="439.98" r="0.45" fill="#e8e8e4"/>
<circle cx="427.19" cy="445.60" r="0.45" fill="#e8e8e4"/>
<circle cx="412.38" cy="440.34" r="0.45" fill="#e8e8e4"/>
<circle cx="431.53" cy="457.78" r="0.45" fill="#e8e8e4"/>
<circle cx="442.25" cy="446.64" r="0.45" fill="#e8e8e4"/>
<circle cx="435.39" cy="433.23" r="0.45" fill="#e8e8e4"/>
<rect x="450" y="423.3" width="39.8" height="40.5" fill="#4a4a4c"/>
<circle cx="469.90" cy="443.55" r="18.90" fill="#b9b9b7" stroke="#dcdcd8" stroke-width="1.6"/>
<rect x="563.3" y="422.6" width="42" height="40.7" fill="#3a3a40"/>
<circle cx="584.30" cy="442.95" r="19.35" fill="#9a9a8c" stroke="#dcdcd8" stroke-width="1.6"/>
<circle cx="569.11" cy="440.84" r="0.45" fill="#d2cc98"/>
<circle cx="583.91" cy="444.07" r="0.45" fill="#d2cc98"/>
<circle cx="599.31" cy="437.61" r="0.45" fill="#d2cc98"/>
<circle cx="593.01" cy="438.13" r="0.45" fill="#d2cc98"/>
<circle cx="572.03" cy="446.56" r="0.45" fill="#d2cc98"/>
<circle cx="570.87" cy="433.47" r="0.45" fill="#d2cc98"/>
<circle cx="599.12" cy="438.54" r="0.45" fill="#d2cc98"/>
<circle cx="583.71" cy="444.08" r="0.45" fill="#d2cc98"/>
<circle cx="590.29" cy="457.90" r="0.45" fill="#d2cc98"/>
<circle cx="578.29" cy="433.34" r="0.45" fill="#d2cc98"/>
<circle cx="595.42" cy="439.90" r="0.45" fill="#d2cc98"/>
<circle cx="569.94" cy="446.85" r="0.45" fill="#d2cc98"/>
<circle cx="599.81" cy="445.38" r="0.45" fill="#d2cc98"/>
<circle cx="571.63" cy="437.32" r="0.45" fill="#d2cc98"/>
<circle cx="599.67" cy="437.65" r="0.45" fill="#d2cc98"/>
<circle cx="578.52" cy="429.43" r="0.45" fill="#d2cc98"/>
<circle cx="599.55" cy="444.73" r="0.45" fill="#d2cc98"/>
<circle cx="573.73" cy="431.47" r="0.45" fill="#d2cc98"/>
<circle cx="571.73" cy="443.71" r="0.45" fill="#d2cc98"/>
<circle cx="586.43" cy="450.05" r="0.45" fill="#d2cc98"/>
<circle cx="591.39" cy="443.22" r="0.45" fill="#d2cc98"/>
<circle cx="572.54" cy="444.30" r="0.45" fill="#d2cc98"/>
<circle cx="600.64" cy="442.44" r="0.45" fill="#d2cc98"/>
<circle cx="586.44" cy="447.31" r="0.45" fill="#d2cc98"/>
<circle cx="578.40" cy="429.56" r="0.45" fill="#d2cc98"/>
<circle cx="596.47" cy="434.70" r="0.45" fill="#d2cc98"/>
<circle cx="584.34" cy="444.46" r="0.45" fill="#d2cc98"/>
<circle cx="583.55" cy="439.58" r="0.45" fill="#d2cc98"/>
<circle cx="597.01" cy="447.87" r="0.45" fill="#d2cc98"/>
<circle cx="594.65" cy="439.11" r="0.45" fill="#d2cc98"/>
<circle cx="591.68" cy="445.47" r="0.45" fill="#d2cc98"/>
<circle cx="589.53" cy="434.26" r="0.45" fill="#d2cc98"/>
<circle cx="575.79" cy="450.51" r="0.45" fill="#d2cc98"/>
<circle cx="572.10" cy="437.88" r="0.45" fill="#d2cc98"/>
<circle cx="586.60" cy="437.36" r="0.45" fill="#d2cc98"/>
<circle cx="584.00" cy="427.82" r="0.45" fill="#d2cc98"/>
<circle cx="586.07" cy="457.18" r="0.45" fill="#d2cc98"/>
<circle cx="591.22" cy="445.65" r="0.45" fill="#d2cc98"/>
<circle cx="593.84" cy="442.72" r="0.45" fill="#d2cc98"/>
<circle cx="572.11" cy="434.09" r="0.45" fill="#d2cc98"/>
<circle cx="590.63" cy="450.05" r="0.45" fill="#d2cc98"/>
<circle cx="582.70" cy="457.96" r="0.45" fill="#d2cc98"/>
<circle cx="585.91" cy="441.36" r="0.45" fill="#d2cc98"/>
<circle cx="596.87" cy="445.93" r="0.45" fill="#d2cc98"/>
<circle cx="591.65" cy="447.73" r="0.45" fill="#d2cc98"/>
<circle cx="580.90" cy="431.10" r="0.45" fill="#d2cc98"/>
<circle cx="580.59" cy="448.07" r="0.45" fill="#d2cc98"/>
<circle cx="587.21" cy="434.57" r="0.45" fill="#d2cc98"/>
<circle cx="597.16" cy="448.31" r="0.45" fill="#d2cc98"/>
<circle cx="577.30" cy="456.24" r="0.45" fill="#d2cc98"/>
<circle cx="575.73" cy="443.68" r="0.45" fill="#d2cc98"/>
<circle cx="588.71" cy="427.79" r="0.45" fill="#d2cc98"/>
<circle cx="580.11" cy="434.21" r="0.45" fill="#d2cc98"/>
<circle cx="581.37" cy="451.52" r="0.45" fill="#d2cc98"/>
<circle cx="569.54" cy="445.76" r="0.45" fill="#d2cc98"/>
<circle cx="583.37" cy="458.84" r="0.45" fill="#d2cc98"/>
<circle cx="577.42" cy="453.57" r="0.45" fill="#d2cc98"/>
<circle cx="586.84" cy="437.82" r="0.45" fill="#d2cc98"/>
<circle cx="574.56" cy="438.28" r="0.45" fill="#d2cc98"/>
<circle cx="571.96" cy="447.86" r="0.45" fill="#d2cc98"/>
<circle cx="580.18" cy="442.43" r="0.45" fill="#d2cc98"/>
<circle cx="578.36" cy="432.42" r="0.45" fill="#d2cc98"/>
<circle cx="578.73" cy="444.83" r="0.45" fill="#d2cc98"/>
<circle cx="592.13" cy="443.52" r="0.45" fill="#d2cc98"/>
<circle cx="568.74" cy="447.79" r="0.45" fill="#d2cc98"/>
<circle cx="578.67" cy="440.07" r="0.45" fill="#d2cc98"/>
<circle cx="591.91" cy="455.28" r="0.45" fill="#d2cc98"/>
<circle cx="577.96" cy="447.96" r="0.45" fill="#d2cc98"/>
<circle cx="584.93" cy="438.21" r="0.45" fill="#d2cc98"/>
<circle cx="586.46" cy="451.83" r="0.45" fill="#d2cc98"/>
<circle cx="568.81" cy="446.74" r="0.45" fill="#d2cc98"/>
<circle cx="581.81" cy="442.10" r="0.45" fill="#d2cc98"/>
<circle cx="571.00" cy="435.70" r="0.45" fill="#d2cc98"/>
<circle cx="596.58" cy="436.35" r="0.45" fill="#d2cc98"/>
<circle cx="585.79" cy="442.29" r="0.45" fill="#d2cc98"/>
<circle cx="598.16" cy="450.08" r="0.45" fill="#d2cc98"/>
<circle cx="568.91" cy="437.91" r="0.45" fill="#d2cc98"/>
<circle cx="582.49" cy="428.76" r="0.45" fill="#d2cc98"/>
<circle cx="585.36" cy="427.36" r="0.45" fill="#d2cc98"/>
<circle cx="575.81" cy="438.29" r="0.45" fill="#d2cc98"/>
<circle cx="570.34" cy="436.01" r="0.45" fill="#d2cc98"/>
<circle cx="584.56" cy="427.86" r="0.45" fill="#d2cc98"/>
<circle cx="597.81" cy="440.95" r="0.45" fill="#d2cc98"/>
<circle cx="593.02" cy="451.77" r="0.45" fill="#d2cc98"/>
<circle cx="587.33" cy="433.72" r="0.45" fill="#d2cc98"/>
<circle cx="579.73" cy="450.12" r="0.45" fill="#d2cc98"/>
<circle cx="579.67" cy="449.16" r="0.45" fill="#d2cc98"/>
<circle cx="599.62" cy="439.22" r="0.45" fill="#d2cc98"/>
<circle cx="573.62" cy="446.90" r="0.45" fill="#d2cc98"/>
<circle cx="595.96" cy="439.73" r="0.45" fill="#d2cc98"/>
<circle cx="578.02" cy="437.62" r="0.45" fill="#d2cc98"/>
<circle cx="569.57" cy="445.97" r="0.45" fill="#d2cc98"/>
<circle cx="588.70" cy="442.70" r="0.45" fill="#d2cc98"/>
<circle cx="582.48" cy="443.98" r="0.45" fill="#d2cc98"/>
<circle cx="599.57" cy="446.77" r="0.45" fill="#d2cc98"/>
<circle cx="587.18" cy="435.86" r="0.45" fill="#d2cc98"/>
<circle cx="585.55" cy="431.02" r="0.45" fill="#d2cc98"/>
<circle cx="588.78" cy="450.55" r="0.45" fill="#d2cc98"/>
<circle cx="583.37" cy="447.13" r="0.45" fill="#d2cc98"/>
<circle cx="578.49" cy="444.92" r="0.45" fill="#d2cc98"/>
<circle cx="577.00" cy="452.98" r="0.45" fill="#d2cc98"/>
<circle cx="584.86" cy="445.19" r="0.45" fill="#d2cc98"/>
<circle cx="595.29" cy="451.99" r="0.45" fill="#d2cc98"/>
<circle cx="585.09" cy="451.71" r="0.45" fill="#d2cc98"/>
<circle cx="593.97" cy="434.60" r="0.45" fill="#d2cc98"/>
<circle cx="569.97" cy="439.10" r="0.45" fill="#d2cc98"/>
<circle cx="572.37" cy="448.61" r="0.45" fill="#d2cc98"/>
<circle cx="593.37" cy="445.62" r="0.45" fill="#d2cc98"/>
<circle cx="588.69" cy="433.94" r="0.45" fill="#d2cc98"/>
<circle cx="583.88" cy="455.34" r="0.45" fill="#d2cc98"/>
<circle cx="587.21" cy="454.50" r="0.45" fill="#d2cc98"/>
<circle cx="594.40" cy="440.97" r="0.45" fill="#d2cc98"/>
<circle cx="575.72" cy="429.11" r="0.45" fill="#d2cc98"/>
<circle cx="596.91" cy="432.70" r="0.45" fill="#d2cc98"/>
<circle cx="577.99" cy="434.53" r="0.45" fill="#d2cc98"/>
<circle cx="583.41" cy="432.04" r="0.45" fill="#d2cc98"/>
<circle cx="587.71" cy="434.88" r="0.45" fill="#d2cc98"/>
<circle cx="578.65" cy="434.50" r="0.45" fill="#d2cc98"/>
<circle cx="592.17" cy="437.63" r="0.45" fill="#d2cc98"/>
<circle cx="576.66" cy="447.63" r="0.45" fill="#d2cc98"/>
<circle cx="598.27" cy="447.12" r="0.45" fill="#d2cc98"/>
<circle cx="584.38" cy="441.52" r="0.45" fill="#d2cc98"/>
<circle cx="597.66" cy="451.10" r="0.45" fill="#d2cc98"/>
<circle cx="581.24" cy="455.14" r="0.45" fill="#d2cc98"/>
<circle cx="570.64" cy="435.65" r="0.45" fill="#d2cc98"/>
<circle cx="588.80" cy="453.97" r="0.45" fill="#d2cc98"/>
<circle cx="596.53" cy="444.32" r="0.45" fill="#d2cc98"/>
<circle cx="583.47" cy="431.85" r="0.45" fill="#d2cc98"/>
<circle cx="599.99" cy="440.73" r="0.45" fill="#d2cc98"/>
<circle cx="580.10" cy="455.52" r="0.45" fill="#d2cc98"/>
<circle cx="587.70" cy="442.32" r="0.45" fill="#d2cc98"/>
<circle cx="577.61" cy="443.15" r="0.45" fill="#d2cc98"/>
<circle cx="592.03" cy="455.94" r="0.45" fill="#d2cc98"/>
<circle cx="580.37" cy="458.52" r="0.45" fill="#d2cc98"/>
<circle cx="573.13" cy="444.64" r="0.45" fill="#d2cc98"/>
<circle cx="591.02" cy="436.09" r="0.45" fill="#d2cc98"/>
<circle cx="587.90" cy="448.85" r="0.45" fill="#d2cc98"/>
<circle cx="574.88" cy="434.62" r="0.45" fill="#d2cc98"/>
<circle cx="571.30" cy="439.45" r="0.45" fill="#d2cc98"/>
<circle cx="574.06" cy="445.93" r="0.45" fill="#d2cc98"/>
<circle cx="576.79" cy="453.32" r="0.45" fill="#d2cc98"/>
<circle cx="574.01" cy="449.38" r="0.45" fill="#d2cc98"/>
<circle cx="587.03" cy="427.02" r="0.45" fill="#d2cc98"/>
<circle cx="595.80" cy="432.51" r="0.45" fill="#d2cc98"/>
<circle cx="578.45" cy="453.91" r="0.45" fill="#d2cc98"/>
<circle cx="596.72" cy="433.39" r="0.45" fill="#d2cc98"/>
<circle cx="594.92" cy="454.79" r="0.45" fill="#d2cc98"/>
<circle cx="580.47" cy="446.26" r="0.45" fill="#d2cc98"/>
<circle cx="574.07" cy="455.53" r="0.45" fill="#d2cc98"/>
<circle cx="583.03" cy="443.23" r="0.45" fill="#d2cc98"/>
<circle cx="598.21" cy="440.47" r="0.45" fill="#d2cc98"/>
<circle cx="583.02" cy="446.53" r="0.45" fill="#d2cc98"/>
<circle cx="576.70" cy="446.60" r="0.45" fill="#d2cc98"/>
<circle cx="591.67" cy="442.00" r="0.45" fill="#d2cc98"/>
<circle cx="572.80" cy="446.35" r="0.45" fill="#d2cc98"/>
<circle cx="589.46" cy="436.46" r="0.45" fill="#d2cc98"/>
<circle cx="593.62" cy="439.29" r="0.45" fill="#d2cc98"/>
<circle cx="591.67" cy="454.30" r="0.45" fill="#d2cc98"/>
<circle cx="571.99" cy="443.27" r="0.45" fill="#d2cc98"/>
<circle cx="571.91" cy="444.12" r="0.45" fill="#d2cc98"/>
<circle cx="588.75" cy="445.73" r="0.45" fill="#d2cc98"/>
<circle cx="579.09" cy="450.80" r="0.45" fill="#d2cc98"/>
<circle cx="600.27" cy="442.09" r="0.45" fill="#d2cc98"/>
<circle cx="580.72" cy="450.97" r="0.45" fill="#d2cc98"/>
<circle cx="597.03" cy="434.71" r="0.45" fill="#d2cc98"/>
<circle cx="594.04" cy="452.12" r="0.45" fill="#d2cc98"/>
<circle cx="576.23" cy="443.83" r="0.45" fill="#d2cc98"/>
<circle cx="581.40" cy="451.41" r="0.45" fill="#d2cc98"/>
<circle cx="591.77" cy="450.35" r="0.45" fill="#d2cc98"/>
<circle cx="593.80" cy="434.06" r="0.45" fill="#d2cc98"/>
<circle cx="582.09" cy="426.71" r="0.45" fill="#d2cc98"/>
<circle cx="580.89" cy="448.23" r="0.45" fill="#d2cc98"/>
<circle cx="580.66" cy="430.19" r="0.45" fill="#d2cc98"/>
<circle cx="578.81" cy="430.37" r="0.45" fill="#d2cc98"/>
<circle cx="575.66" cy="431.16" r="0.45" fill="#d2cc98"/>
<circle cx="587.48" cy="441.75" r="0.45" fill="#d2cc98"/>
<circle cx="574.42" cy="452.03" r="0.45" fill="#d2cc98"/>
<circle cx="587.77" cy="444.12" r="0.45" fill="#d2cc98"/>
<circle cx="571.60" cy="439.54" r="0.45" fill="#d2cc98"/>
<circle cx="569.80" cy="436.91" r="0.45" fill="#d2cc98"/>
<circle cx="589.12" cy="451.38" r="0.45" fill="#d2cc98"/>
<circle cx="583.82" cy="427.92" r="0.45" fill="#d2cc98"/>
<circle cx="587.59" cy="445.36" r="0.45" fill="#d2cc98"/>
<circle cx="572.69" cy="453.57" r="0.45" fill="#d2cc98"/>
<circle cx="582.62" cy="430.84" r="0.45" fill="#d2cc98"/>
<circle cx="571.91" cy="440.00" r="0.45" fill="#d2cc98"/>
<circle cx="578.76" cy="443.55" r="0.45" fill="#d2cc98"/>
<circle cx="576.51" cy="444.31" r="0.45" fill="#d2cc98"/>
<circle cx="581.09" cy="429.75" r="0.45" fill="#d2cc98"/>
<circle cx="589.83" cy="437.69" r="0.45" fill="#d2cc98"/>
<circle cx="595.72" cy="452.75" r="0.45" fill="#d2cc98"/>
<circle cx="596.24" cy="448.92" r="0.45" fill="#d2cc98"/>
<circle cx="582.49" cy="430.71" r="0.45" fill="#d2cc98"/>
<circle cx="589.31" cy="444.52" r="0.45" fill="#d2cc98"/>
<circle cx="578.40" cy="437.17" r="0.45" fill="#d2cc98"/>
<circle cx="586.30" cy="450.83" r="0.45" fill="#d2cc98"/>
<circle cx="597.46" cy="433.16" r="0.45" fill="#d2cc98"/>
<circle cx="584.98" cy="429.99" r="0.45" fill="#d2cc98"/>
<circle cx="583.10" cy="446.64" r="0.45" fill="#d2cc98"/>
<circle cx="576.27" cy="434.38" r="0.45" fill="#d2cc98"/>
<circle cx="574.94" cy="455.96" r="0.45" fill="#d2cc98"/>
<circle cx="572.24" cy="445.48" r="0.45" fill="#d2cc98"/>
<circle cx="586.62" cy="437.67" r="0.45" fill="#d2cc98"/>
<circle cx="577.98" cy="456.42" r="0.45" fill="#d2cc98"/>
<circle cx="579.21" cy="430.64" r="0.45" fill="#d2cc98"/>
<circle cx="600.01" cy="440.57" r="0.45" fill="#d2cc98"/>
<circle cx="585.53" cy="458.78" r="0.45" fill="#d2cc98"/>
<circle cx="594.81" cy="438.94" r="0.45" fill="#d2cc98"/>
<circle cx="586.48" cy="434.81" r="0.45" fill="#d2cc98"/>
<circle cx="587.54" cy="441.42" r="0.45" fill="#d2cc98"/>
<circle cx="585.37" cy="434.77" r="0.45" fill="#d2cc98"/>
<circle cx="590.96" cy="444.52" r="0.45" fill="#d2cc98"/>
<circle cx="581.71" cy="435.43" r="0.45" fill="#d2cc98"/>
<circle cx="575.63" cy="447.94" r="0.45" fill="#d2cc98"/>
<circle cx="584.84" cy="458.64" r="0.45" fill="#d2cc98"/>
<circle cx="578.61" cy="454.11" r="0.45" fill="#d2cc98"/>
<circle cx="594.92" cy="453.38" r="0.45" fill="#d2cc98"/>
<circle cx="585.77" cy="430.28" r="0.45" fill="#d2cc98"/>
<circle cx="584.29" cy="434.88" r="0.45" fill="#d2cc98"/>
<circle cx="589.88" cy="437.82" r="0.45" fill="#d2cc98"/>
<rect x="608.2" y="422.6" width="38.8" height="40.7" fill="#58585a"/>
<circle cx="627.60" cy="442.95" r="18.40" fill="#a8a8a8" stroke="#dcdcd8" stroke-width="1.6"/>
</svg></body></html>
